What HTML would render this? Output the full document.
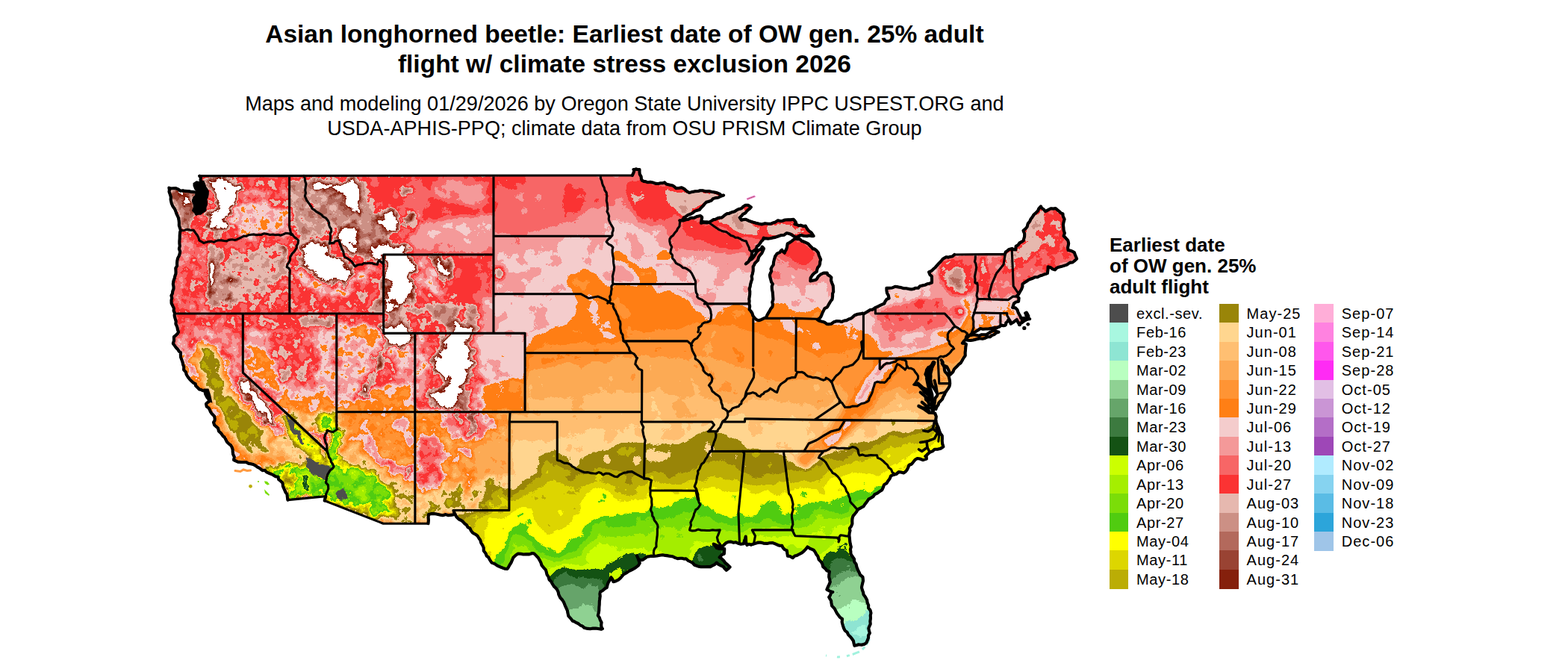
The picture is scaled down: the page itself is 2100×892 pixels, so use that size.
<!DOCTYPE html><html><head><meta charset="utf-8"><title>map</title><style>html,body{margin:0;padding:0;background:#fff;overflow:hidden}svg{display:block}text{font-family:"Liberation Sans",sans-serif;fill:#000}</style></head><body>
<svg width="2100" height="892" viewBox="0 0 2100 892">
<defs><clipPath id="us"><path d="M267.2 235.6 L848.4 235.6 L848.4 225.6 L852.6 225.9 L856.2 227.7 L857.9 236.9 L859.5 242.2 L867.7 244.0 L877.8 246.5 L884.1 244.7 L890.4 244.0 L898.0 248.2 L905.6 252.8 L913.1 251.5 L923.2 257.8 L930.8 256.6 L938.3 254.0 L945.9 256.6 L953.5 257.8 L963.6 259.8 L969.1 261.9 L958.5 265.4 L945.9 271.7 L935.8 279.3 L925.7 286.8 L915.6 292.6 L910.1 295.6 L915.6 294.9 L925.7 293.1 L937.1 289.3 L941.4 291.4 L939.6 296.9 L947.2 298.7 L953.5 296.1 L961.0 293.1 L968.6 289.8 L976.2 286.1 L983.7 282.3 L991.3 278.5 L998.9 275.7 L1005.2 276.5 L1002.6 280.5 L995.8 286.8 L991.3 291.4 L992.8 294.6 L1001.4 293.6 L1008.9 298.2 L1016.5 300.7 L1024.1 300.9 L1031.6 298.7 L1041.7 295.9 L1051.8 294.9 L1063.1 293.9 L1064.9 298.2 L1063.9 301.7 L1072.0 301.7 L1079.5 302.2 L1082.6 307.0 L1085.8 312.8 L1089.6 315.8 L1080.8 315.8 L1073.2 314.8 L1066.9 317.3 L1059.4 314.8 L1053.1 313.8 L1045.5 315.3 L1037.9 316.8 L1031.6 318.3 L1026.6 320.4 L1022.8 318.8 L1019.5 323.4 L1016.5 328.4 L1012.7 333.5 L1008.4 338.0 L1005.2 343.6 L1001.4 349.1 L998.3 353.6 L1001.4 351.6 L1006.4 346.1 L1011.5 340.5 L1016.5 334.7 L1021.0 330.9 L1022.8 333.5 L1017.8 341.0 L1014.0 347.3 L1011.0 354.9 L1008.4 363.7 L1006.4 373.8 L1004.4 383.9 L1002.9 394.0 L1003.9 402.8 L1005.2 414.2 L1007.7 423.7 L1012.7 428.8 L1019.5 428.8 L1026.1 424.7 L1030.4 417.2 L1034.2 407.1 L1036.2 397.8 L1035.2 387.7 L1032.6 377.6 L1030.9 368.8 L1032.9 359.9 L1036.2 351.1 L1039.2 344.1 L1043.7 338.5 L1047.3 334.0 L1049.8 338.5 L1052.3 333.5 L1055.6 327.2 L1059.9 322.9 L1064.4 319.8 L1068.2 320.4 L1075.8 323.9 L1084.6 328.4 L1092.1 333.5 L1095.9 339.0 L1098.2 347.3 L1097.2 356.2 L1092.9 363.2 L1087.6 368.8 L1085.3 375.8 L1091.6 374.3 L1099.7 368.3 L1106.8 365.7 L1112.8 371.3 L1115.6 382.6 L1116.6 394.0 L1113.8 401.0 L1109.8 406.1 L1107.3 411.1 L1103.5 412.1 L1102.7 419.2 L1099.7 424.7 L1094.7 428.0 L1102.2 431.3 L1109.8 434.3 L1117.4 432.3 L1130.0 429.8 L1142.6 423.7 L1155.2 419.7 L1156.4 420.6 L1165.2 415.8 L1172.4 412.9 L1181.0 406.9 L1190.5 399.0 L1190.0 395.0 L1187.3 386.8 L1198.9 384.0 L1217.8 386.6 L1230.5 386.3 L1241.0 380.5 L1247.3 379.2 L1247.3 370.0 L1244.1 364.7 L1255.7 355.5 L1266.2 345.0 L1278.2 341.0 L1346.2 340.7 L1348.3 335.7 L1355.1 333.1 L1359.9 334.4 L1361.0 330.5 L1369.4 321.2 L1372.5 316.0 L1371.5 309.4 L1376.7 304.1 L1377.8 296.2 L1394.0 276.2 L1397.8 280.4 L1401.0 283.6 L1413.6 278.8 L1424.3 286.5 L1424.5 316.0 L1431.5 325.2 L1431.9 334.4 L1438.8 338.4 L1441.6 345.7 L1436.7 351.0 L1428.3 354.2 L1417.8 358.1 L1412.5 362.1 L1403.1 358.1 L1402.0 364.7 L1396.7 367.9 L1386.2 372.1 L1377.8 374.7 L1372.5 377.9 L1369.4 384.5 L1365.2 391.1 L1361.4 396.3 L1364.7 402.9 L1358.9 406.9 L1356.8 411.4 L1363.1 414.8 L1364.7 421.4 L1367.3 425.8 L1375.7 426.4 L1378.9 422.7 L1375.7 418.5 L1373.6 418.7 L1379.3 428.0 L1371.5 430.1 L1364.1 432.4 L1362.0 428.0 L1354.6 433.2 L1350.4 428.0 L1347.3 431.9 L1346.6 436.7 L1338.6 438.0 L1327.3 439.3 L1316.8 439.8 L1306.2 443.8 L1298.9 449.0 L1294.7 453.0 L1293.2 454.3 L1304.1 456.4 L1318.9 453.0 L1337.8 444.6 L1329.4 443.2 L1321.0 447.2 L1308.3 448.5 L1298.9 450.4 L1293.2 454.3 L1289.4 460.1 L1293.6 460.9 L1292.5 472.8 L1287.3 485.9 L1279.9 493.8 L1273.6 500.9 L1270.4 493.8 L1262.0 487.2 L1261.0 482.0 L1264.1 491.2 L1270.4 504.4 L1271.5 513.6 L1267.3 525.4 L1259.9 537.3 L1252.6 547.8 L1251.5 543.9 L1255.7 528.1 L1247.3 516.2 L1246.2 500.4 L1250.4 487.2 L1243.1 491.2 L1241.0 501.7 L1243.1 514.9 L1244.1 524.1 L1232.6 517.5 L1229.4 513.6 L1238.9 524.1 L1245.2 533.4 L1238.9 532.0 L1245.2 542.6 L1241.0 545.2 L1245.2 551.8 L1237.8 546.5 L1245.2 553.6 L1251.5 553.9 L1254.2 563.7 L1256.8 572.9 L1261.4 583.9 L1262.7 597.9 L1252.6 601.9 L1243.1 608.5 L1239.9 615.0 L1228.3 613.7 L1217.8 622.9 L1210.9 634.3 L1203.1 633.5 L1192.6 637.4 L1185.2 649.3 L1181.0 655.9 L1169.4 665.1 L1157.8 674.3 L1149.4 682.2 L1143.1 691.5 L1139.9 704.6 L1136.8 717.8 L1137.8 728.3 L1141.0 741.5 L1147.3 760.0 L1155.7 777.1 L1154.7 786.3 L1161.0 807.4 L1166.2 820.6 L1165.2 839.0 L1164.1 848.2 L1159.9 860.1 L1152.6 864.0 L1144.1 864.8 L1143.1 858.8 L1131.5 844.3 L1128.4 829.8 L1119.9 821.9 L1113.6 807.4 L1110.5 799.5 L1115.7 792.9 L1108.4 790.3 L1110.5 775.8 L1110.5 765.2 L1103.1 759.2 L1095.7 745.5 L1089.4 737.6 L1082.0 733.6 L1075.7 737.6 L1062.1 746.8 L1054.7 744.7 L1053.6 737.6 L1046.3 732.3 L1034.7 726.2 L1015.7 727.6 L1009.4 728.9 L1000.0 729.7 L998.9 719.1 L995.7 727.0 L989.4 727.0 L975.7 726.5 L968.4 731.0 L965.2 731.8 L962.1 731.0 L955.7 728.3 L960.0 734.9 L969.4 734.9 L970.5 741.5 L965.2 745.5 L971.5 754.7 L976.8 758.6 L973.6 763.1 L968.4 760.0 L960.0 753.4 L954.7 758.6 L944.2 760.0 L931.5 756.0 L918.9 749.4 L910.5 748.1 L897.9 745.5 L887.3 742.3 L875.8 744.2 L864.2 748.1 L856.8 750.7 L852.6 744.2 L856.8 754.7 L845.2 763.9 L832.6 772.6 L822.1 778.9 L817.9 773.1 L812.6 786.3 L805.2 792.9 L802.1 806.1 L801.0 820.6 L805.2 833.7 L806.3 842.7 L804.8 842.5 L793.5 841.7 L780.9 839.2 L765.7 831.6 L760.7 821.5 L755.6 806.4 L746.8 793.8 L738.0 778.7 L730.4 763.6 L722.9 750.9 L715.3 742.1 L697.7 740.9 L690.1 743.4 L684.5 753.5 L678.6 763.4 L669.8 758.9 L659.7 752.5 L650.9 745.0 L647.1 733.6 L643.3 723.6 L637.0 714.7 L629.5 708.4 L621.9 702.1 L614.3 694.6 L608.0 686.2 L608.8 689.3 L573.5 689.3 L573.5 701.2 L513.3 701.2 L434.5 670.6 L436.4 664.6 L385.9 669.6 L384.1 661.8 L380.3 654.3 L376.5 646.7 L372.0 638.6 L361.4 632.8 L351.3 630.3 L345.0 625.3 L336.2 621.5 L326.1 619.0 L314.7 616.5 L312.2 608.9 L309.7 598.8 L304.6 591.2 L298.3 583.7 L292.0 573.6 L286.2 566.5 L287.0 561.5 L284.5 555.9 L280.7 548.4 L276.1 541.3 L280.2 538.3 L278.7 530.7 L274.4 523.7 L266.1 521.9 L261.8 516.9 L256.7 509.3 L250.4 501.7 L246.6 495.4 L244.1 485.3 L241.6 475.3 L237.8 467.7 L232.8 460.1 L234.0 452.6 L237.8 445.0 L233.3 419.2 L232.3 409.1 L230.3 402.8 L229.2 396.5 L231.3 386.4 L233.3 376.3 L235.3 366.2 L236.8 356.2 L238.3 346.1 L239.8 336.0 L241.1 325.9 L241.6 315.8 L241.1 308.3 L240.3 301.9 L239.6 295.6 L237.3 289.3 L234.5 283.0 L232.3 275.5 L229.8 267.9 L227.7 260.3 L225.7 254.0 L226.5 251.3 L235.3 252.8 L245.4 255.3 L254.2 257.3 L262.5 257.8 L263.0 261.6 L260.0 267.9 L261.3 274.2 L259.8 281.8 L263.0 287.1 L268.6 285.6 L274.9 280.5 L276.4 274.2 L274.9 266.6 L276.9 260.3 L275.6 252.8 L273.1 246.5 L269.3 241.4Z"/></clipPath><filter id="fe" x="190" y="200" width="1320" height="700" filterUnits="userSpaceOnUse" color-interpolation-filters="sRGB"><feGaussianBlur in="SourceGraphic" stdDeviation="3.0" result="b"/><feColorMatrix in="b" type="matrix" values="1 0 0 0 0 1 0 0 0 0 1 0 0 0 0 0 0 0 0 1" result="L"/><feColorMatrix in="b" type="matrix" values="0 1 0 0 0 0 1 0 0 0 0 1 0 0 0 0 0 0 0 1" result="A"/><feTurbulence type="fractalNoise" baseFrequency="0.06" numOctaves="4" seed="11" result="dt0"/><feColorMatrix in="dt0" type="matrix" values="1 0 0 0 0 0 1 0 0 0 0 0 1 0 0 0 0 0 0 1" result="dt"/><feComposite in="A" in2="dt" operator="arithmetic" k1="1" k2="-0.5" k3="0" k4="0.5" result="dm"/><feDisplacementMap in="L" in2="dm" scale="20" xChannelSelector="R" yChannelSelector="G" result="d"/><feTurbulence type="fractalNoise" baseFrequency="0.075" numOctaves="5" seed="7" result="t"/><feColorMatrix in="t" type="matrix" values="1 0 0 0 0 1 0 0 0 0 1 0 0 0 0 0 0 0 0 1" result="n"/><feComposite in="A" in2="n" operator="arithmetic" k1="1" k2="0" k3="0" k4="0" result="m"/><feComposite in="d" in2="m" operator="arithmetic" k1="0" k2="1" k3="0.16" k4="0" result="f1"/><feColorMatrix in="b" type="matrix" values="0 0 1 0 0 0 0 1 0 0 0 0 1 0 0 0 0 0 0 1" result="A2"/><feTurbulence type="fractalNoise" baseFrequency="0.028" numOctaves="3" seed="3" result="t2"/><feColorMatrix in="t2" type="matrix" values="1 0 0 0 0 1 0 0 0 0 1 0 0 0 0 0 0 0 0 1" result="n2"/><feComposite in="A2" in2="n2" operator="arithmetic" k1="1" k2="0" k3="0" k4="0" result="m2"/><feComposite in="f1" in2="m2" operator="arithmetic" k1="0" k2="1" k3="0.16" k4="0" result="f"/><feComponentTransfer in="f"><feFuncR type="discrete" tableValues="0.659 0.557 0.725 0.561 0.400 0.235 0.078 0.800 0.647 0.482 0.314 1.000 0.867 0.733 0.600 1.000 1.000 0.992 1.000 1.000 0.957 0.957 0.969 0.984 0.902 0.800 0.702 0.600 0.522 1.000 1.000 1.000"/><feFuncG type="discrete" tableValues="0.969 0.898 1.000 0.820 0.647 0.478 0.322 1.000 0.933 0.867 0.800 1.000 0.839 0.678 0.522 0.839 0.749 0.667 0.580 0.498 0.800 0.600 0.400 0.200 0.722 0.565 0.412 0.263 0.125 1.000 1.000 1.000"/><feFuncB type="discrete" tableValues="0.878 0.827 0.753 0.576 0.416 0.247 0.078 0.000 0.000 0.031 0.063 0.000 0.000 0.020 0.035 0.561 0.447 0.333 0.204 0.082 0.800 0.600 0.400 0.200 0.686 0.522 0.361 0.200 0.047 1.000 1.000 1.000"/></feComponentTransfer></filter><filter id="rough" x="300" y="500" width="300" height="250" filterUnits="userSpaceOnUse"><feTurbulence type="fractalNoise" baseFrequency="0.09" numOctaves="3" seed="5" result="t"/><feDisplacementMap in="SourceGraphic" in2="t" scale="12" xChannelSelector="R" yChannelSelector="G"/></filter></defs>
<rect width="2100" height="892" fill="#fff"/>
<g clip-path="url(#us)"><g filter="url(#fe)"><rect x="150" y="160" width="1400" height="780" fill="#a01f73"/><path d="M640.0 200.0 L640.0 316.0 L700.0 314.0 L745.0 302.0 L775.0 288.0 L805.0 272.0 L835.0 260.0 L850.0 268.0 L860.0 290.0 L880.0 305.0 L900.0 318.0 L915.0 335.0 L950.0 338.0 L985.0 336.0 L1005.0 340.0 L1035.0 352.0 L1060.0 362.0 L1097.0 358.0 L1130.0 355.0 L1130.0 200.0Z" fill="#a81f73"/><path d="M671.3 233.9 L706.6 233.9 L704.1 250.3 L691.5 257.8 L676.3 252.8Z" fill="#b01f73"/><path d="M840.0 244.0 L855.1 241.4 L877.8 245.2 L890.4 252.8 L903.0 270.4 L900.5 288.1 L890.4 300.7 L870.3 303.2 L855.1 295.6 L845.0 275.5 L840.0 260.3Z" fill="#b01f73"/><path d="M913.1 300.7 L928.3 295.6 L945.9 300.7 L966.1 310.8 L986.2 320.9 L1001.4 330.9 L991.3 336.0 L971.1 330.9 L950.9 325.9 L930.8 320.9 L915.6 313.3Z" fill="#b01f73"/><path d="M1041.7 323.4 L1056.8 320.9 L1074.5 325.9 L1089.6 333.5 L1092.1 346.1 L1082.1 356.2 L1066.9 351.1 L1051.8 346.1 L1041.7 336.0Z" fill="#b01f73"/><path d="M887.9 250.3 L905.6 252.8 L923.2 257.8 L940.9 255.3 L969.1 261.9 L958.5 266.6 L945.9 273.0 L935.8 280.5 L925.7 288.1 L915.6 290.6 L905.6 283.0 L895.5 270.4 L887.9 260.3Z" fill="#b81f73"/><path d="M948.4 295.6 L961.0 291.9 L976.2 286.1 L991.3 278.5 L1005.2 276.5 L996.3 288.1 L1001.4 293.6 L1016.5 300.7 L1031.6 298.7 L1051.8 294.9 L1064.4 293.9 L1079.5 302.2 L1088.4 315.8 L1066.9 317.3 L1053.1 313.8 L1031.6 318.3 L1019.5 323.4 L1014.0 319.6 L1003.9 315.8 L991.3 310.8 L976.2 304.5 L961.0 300.2Z" fill="#b81f73"/><path d="M1016.5 307.0 L1029.1 305.7 L1034.2 315.8 L1026.6 320.9 L1017.8 317.1Z" fill="#b01f73"/><path d="M640.0 346.0 L690.0 336.0 L720.0 326.0 L770.0 318.0 L800.0 306.0 L822.0 292.0 L845.0 300.0 L870.0 322.0 L895.0 338.0 L920.0 348.0 L950.0 355.0 L985.0 360.0 L1005.0 364.0 L1035.0 376.0 L1060.0 382.0 L1095.0 378.0 L1130.0 372.0 L1130.0 480.0 L640.0 480.0Z" fill="#9b1f73"/><path d="M663.0 358.2 L670.8 356.2 L675.8 365.0 L671.3 375.8 L663.7 373.8Z" fill="#c01f73"/><path d="M1175.1 414.2 L1210.4 406.6 L1260.9 396.5 L1268.4 416.7 L1265.9 439.4 L1235.6 441.9 L1185.2 441.9 L1170.1 426.8Z" fill="#a18c59"/><path d="M1173.9 394.0 L1190.3 385.2 L1210.4 383.9 L1235.6 385.2 L1245.7 381.4 L1248.3 391.5 L1235.6 401.5 L1210.4 404.1 L1185.2 411.6 L1172.6 416.7Z" fill="#918c59"/><path d="M1245.7 365.0 L1255.8 353.6 L1273.5 342.3 L1286.1 342.3 L1278.5 356.2 L1265.9 366.2 L1253.3 376.3Z" fill="#918c59"/><path d="M1260.9 351.1 L1278.5 344.8 L1301.2 346.1 L1306.2 361.2 L1305.0 381.4 L1296.2 396.5 L1278.5 396.5 L1263.4 386.4 L1257.1 368.8Z" fill="#a98c59"/><path d="M1272.2 362.5 L1283.6 357.4 L1292.4 361.2 L1293.6 376.3 L1287.3 387.7 L1276.0 386.4 L1270.9 375.1Z" fill="#bd8c59"/><path d="M1277.2 412.9 L1289.9 410.4 L1292.4 420.5 L1281.0 423.0Z" fill="#b18c59"/><path d="M1308.8 341.0 L1347.8 340.5 L1356.7 333.5 L1361.7 361.2 L1361.7 396.5 L1351.6 401.0 L1311.3 401.0Z" fill="#a18c59"/><path d="M1345.3 338.5 L1357.9 333.5 L1361.7 351.1 L1356.7 363.7 L1347.8 361.2 L1344.1 351.1Z" fill="#b58c59"/><path d="M1312.5 346.1 L1320.1 344.8 L1321.4 371.3 L1317.6 396.5 L1312.5 396.5Z" fill="#b18c59"/><path d="M1357.9 333.5 L1365.5 320.9 L1376.8 298.2 L1392.0 276.7 L1402.1 279.3 L1399.5 295.6 L1394.5 310.8 L1397.0 325.9 L1386.9 338.5 L1374.3 346.1 L1361.7 351.1Z" fill="#b48c59"/><path d="M1402.1 279.3 L1419.7 277.5 L1426.0 286.8 L1426.0 320.9 L1433.6 336.0 L1441.9 344.8 L1427.3 351.1 L1412.1 351.1 L1402.1 346.1 L1397.0 330.9 L1395.8 313.3 L1400.8 295.6Z" fill="#a98c59"/><path d="M1361.7 351.1 L1374.3 346.1 L1386.9 338.5 L1397.0 330.9 L1402.1 346.1 L1412.1 351.1 L1409.6 357.4 L1397.0 361.2 L1381.9 371.3 L1369.3 383.9 L1363.0 394.0Z" fill="#a18c59"/><path d="M1397.0 356.2 L1412.1 353.6 L1417.2 357.4 L1409.6 363.7 L1399.5 365.0Z" fill="#b18c59"/><path d="M1308.8 402.0 L1351.6 401.0 L1361.7 396.5 L1361.7 421.7 L1351.6 439.4 L1303.7 439.4 L1305.0 420.5Z" fill="#918c59"/><path d="M1291.6 396.5 L1298.2 396.5 L1301.2 421.7 L1303.7 444.9 L1291.1 444.9 L1293.6 421.7Z" fill="#898c59"/><path d="M1316.8 419.7 L1325.2 419.2 L1326.4 441.9 L1317.6 443.1Z" fill="#898c59"/><path d="M1291.5 453.0 L1302.0 447.7 L1325.2 445.1 L1339.9 442.4 L1339.9 459.6 L1291.5 459.6Z" fill="#898c59"/><path d="M1305.0 439.9 L1321.4 438.9 L1341.5 438.4 L1345.3 441.9 L1345.3 446.9 L1305.0 446.9Z" fill="#898c59"/><path d="M1144.0 428.0 L1160.0 420.0 L1175.0 425.0 L1170.0 445.0 L1150.0 450.0Z" fill="#9c1f73"/><path d="M660.0 494.0 L680.0 494.0 L692.6 490.9 L702.0 465.8 L708.2 453.2 L717.7 446.9 L730.2 443.8 L742.8 437.5 L758.5 434.4 L771.0 421.8 L774.2 403.0 L767.9 387.3 L758.5 381.0 L761.6 370.0 L774.2 365.3 L783.6 357.5 L793.0 363.8 L805.5 374.7 L821.2 379.5 L855.8 379.5 L874.6 381.0 L880.9 390.4 L899.7 388.9 L918.5 398.3 L931.1 410.8 L946.8 415.5 L953.1 412.4 L968.8 411.8 L993.9 410.8 L1006.4 415.5 L1025.3 421.8 L1034.7 407.7 L1050.4 406.1 L1066.1 415.5 L1084.9 420.3 L1094.3 410.8 L1103.7 421.8 L1119.4 431.2 L1141.4 428.1 L1150.8 437.5 L1159.3 445.4 L1173.7 448.8 L1179.1 468.6 L1189.7 475.8 L1200.4 461.4 L1214.8 446.9 L1229.3 443.5 L1243.4 450.7 L1257.8 441.6 L1275.7 443.5 L1286.7 438.1 L1295.5 429.0 L1299.9 437.5 L1305.2 453.2 L1307.7 478.3 L1308.0 478.3 L1308.0 900.0 L660.0 900.0Z" fill="#901f73"/><path d="M660.0 478.3 L702.0 478.3 L727.1 465.8 L758.5 459.5 L789.9 459.5 L821.2 456.4 L843.2 453.2 L868.3 446.9 L899.7 440.7 L924.8 437.5 L937.4 431.2 L962.5 437.5 L993.9 440.7 L1009.6 446.9 L1025.3 453.2 L1056.6 459.5 L1069.2 465.8 L1088.0 472.0 L1119.4 472.0 L1144.5 465.8 L1157.1 478.3 L1182.2 484.6 L1213.6 478.3 L1245.0 465.8 L1276.4 453.2 L1303.0 446.9 L1307.7 478.3 L1308.0 478.3 L1308.0 900.0 L660.0 900.0Z" fill="#881f73"/><path d="M660.0 497.2 L702.0 497.2 L727.1 490.9 L758.5 484.6 L789.9 483.0 L821.2 481.5 L852.6 478.3 L868.3 475.2 L899.7 478.3 L931.1 475.2 L946.8 478.3 L962.5 484.6 L993.9 490.9 L1009.6 497.2 L1025.3 506.6 L1056.6 509.7 L1088.0 509.7 L1119.4 516.0 L1135.1 528.5 L1166.5 534.8 L1197.9 522.3 L1229.3 509.7 L1260.7 490.9 L1292.1 478.3 L1320.0 465.8 L1480.0 465.8 L1480.0 900.0 L660.0 900.0Z" fill="#801f73"/><path d="M660.0 538.0 L680.0 538.0 L702.0 534.8 L742.8 531.7 L805.5 528.5 L858.9 525.4 L899.7 528.5 L931.1 531.7 L962.5 538.0 L978.2 541.1 L993.9 538.0 L1025.3 534.8 L1056.6 538.0 L1088.0 541.1 L1119.4 544.2 L1150.8 550.5 L1182.2 547.4 L1213.6 534.8 L1245.0 522.3 L1276.4 506.6 L1320.0 490.9 L1480.0 490.9 L1480.0 900.0 L660.0 900.0Z" fill="#781f73"/><path d="M660.0 592.2 L680.0 592.2 L711.4 590.6 L745.9 587.5 L774.2 578.1 L805.5 573.4 L836.9 570.2 L858.9 567.1 L884.0 567.1 L915.4 563.9 L946.8 560.8 L962.5 559.2 L981.3 557.7 L1009.6 554.5 L1025.3 557.7 L1056.6 560.8 L1088.0 562.4 L1119.4 563.9 L1150.8 562.4 L1182.2 557.7 L1213.6 551.4 L1245.0 545.1 L1263.8 538.8 L1480.0 538.8 L1480.0 900.0 L660.0 900.0Z" fill="#721f73"/><path d="M606.0 634.0 L606.0 634.0 L635.1 645.2 L662.1 665.4 L680.0 660.9 L693.5 649.7 L704.7 640.7 L722.6 634.0 L726.0 625.0 L719.2 610.5 L731.6 608.2 L745.0 604.9 L754.0 608.2 L769.7 606.0 L780.9 610.5 L796.6 604.9 L805.6 601.5 L823.5 597.0 L837.0 592.5 L850.4 593.6 L861.7 591.4 L866.1 593.6 L875.1 591.4 L890.8 593.6 L904.3 591.4 L915.5 590.3 L926.7 584.7 L937.9 579.1 L949.1 575.7 L958.1 573.5 L964.8 580.2 L971.5 582.4 L980.5 586.9 L989.5 590.3 L996.2 593.6 L1002.2 602.6 L1050.5 604.9 L1053.8 608.2 L1067.3 618.3 L1076.3 621.7 L1089.7 619.4 L1098.7 615.6 L1103.2 608.2 L1112.1 600.4 L1125.6 598.1 L1139.0 595.9 L1152.5 593.6 L1166.0 589.2 L1179.4 584.7 L1188.4 580.2 L1201.8 579.1 L1215.3 576.8 L1228.8 573.5 L1242.2 569.0 L1256.8 565.6 L1291.5 560.0 L1480.0 560.0 L1480.0 900.0 L606.0 900.0Z" fill="#681f73"/><path d="M606.0 717.0 L606.0 717.0 L623.9 694.6 L646.4 676.6 L662.1 669.9 L680.0 665.4 L693.5 656.4 L709.2 645.2 L724.9 638.5 L728.2 627.3 L738.3 622.8 L754.0 625.0 L765.2 629.5 L780.9 634.0 L796.6 636.3 L805.6 629.5 L819.0 627.3 L837.0 631.8 L850.4 634.0 L861.7 636.3 L872.9 634.0 L881.8 634.0 L895.3 636.3 L908.8 634.0 L922.2 629.5 L933.4 623.9 L942.4 618.3 L953.6 617.2 L971.5 620.6 L985.0 625.0 L996.2 629.5 L1002.2 634.0 L1013.5 636.3 L1026.9 634.0 L1040.4 637.4 L1051.6 634.0 L1067.3 627.3 L1080.7 628.4 L1094.2 626.2 L1103.2 620.6 L1112.1 613.8 L1125.6 611.6 L1139.0 608.2 L1152.5 604.9 L1166.0 599.2 L1179.4 593.6 L1192.9 589.2 L1206.3 586.9 L1219.8 583.5 L1233.2 579.1 L1246.7 574.6 L1257.9 571.2 L1291.5 564.5 L1480.0 564.5 L1480.0 900.0 L606.0 900.0Z" fill="#601f73"/><path d="M612.7 739.4 L612.7 739.4 L630.7 717.0 L646.4 694.6 L662.1 681.1 L680.0 676.6 L693.5 667.6 L706.9 658.7 L724.9 649.7 L738.3 645.2 L754.0 647.5 L769.7 649.7 L785.4 651.9 L801.1 649.7 L814.6 647.5 L832.5 649.7 L850.4 651.9 L866.1 649.7 L872.9 647.5 L886.3 648.6 L904.3 649.7 L917.7 647.5 L928.9 644.1 L937.9 640.7 L949.1 638.5 L962.6 639.6 L978.3 644.1 L996.2 648.6 L1002.2 649.7 L1026.9 649.3 L1053.8 649.7 L1067.3 646.3 L1080.7 643.4 L1094.2 638.9 L1105.4 634.0 L1116.6 627.3 L1130.1 622.8 L1143.5 618.3 L1157.0 616.1 L1170.4 613.8 L1183.9 608.2 L1197.4 602.6 L1210.8 598.1 L1224.3 593.6 L1237.7 588.0 L1251.2 582.4 L1260.1 577.9 L1291.5 569.0 L1480.0 569.0 L1480.0 900.0 L612.7 900.0Z" fill="#581f73"/><path d="M623.9 750.6 L623.9 750.6 L639.6 728.2 L653.1 708.0 L662.1 699.0 L680.0 694.6 L689.0 687.8 L700.2 681.1 L709.2 681.1 L713.6 694.6 L722.6 705.8 L736.1 710.3 L751.8 708.0 L765.2 699.0 L774.2 685.6 L778.7 672.1 L785.4 663.2 L796.6 658.7 L805.6 654.2 L814.6 658.7 L825.8 665.4 L837.0 667.6 L850.4 665.4 L866.1 663.2 L872.9 658.7 L881.8 659.8 L899.8 660.9 L913.2 659.8 L926.7 658.7 L933.4 655.3 L940.1 651.9 L949.1 650.8 L962.6 654.2 L978.3 659.8 L996.2 664.3 L1002.2 665.4 L1013.5 662.0 L1026.9 658.7 L1040.4 665.4 L1053.8 660.9 L1067.3 658.7 L1080.7 654.2 L1094.2 649.7 L1107.6 645.2 L1121.1 640.7 L1134.6 636.3 L1145.8 631.8 L1157.0 636.3 L1170.4 638.5 L1179.4 636.3 L1190.6 627.3 L1201.8 618.3 L1213.1 613.8 L1224.3 608.2 L1235.5 602.6 L1246.7 595.9 L1257.9 589.2 L1263.5 584.7 L1291.5 575.7 L1480.0 575.7 L1480.0 900.0 L623.9 900.0Z" fill="#501f73"/><path d="M654.2 750.6 L654.2 750.6 L662.1 742.1 L673.0 737.4 L682.5 728.0 L680.9 709.1 L690.3 702.9 L698.2 699.7 L706.0 706.0 L710.7 718.6 L723.3 724.8 L735.8 731.1 L748.4 737.2 L756.3 730.4 L765.2 721.5 L776.4 714.7 L785.4 703.5 L796.6 696.8 L810.1 692.3 L823.5 694.6 L837.0 692.3 L846.0 685.6 L859.4 690.1 L872.9 685.6 L877.4 681.1 L890.8 678.9 L904.3 672.1 L913.2 667.6 L924.4 669.9 L933.4 665.4 L940.1 667.6 L949.1 676.6 L960.3 687.8 L971.5 692.3 L985.0 690.1 L996.2 686.7 L1002.2 685.6 L1009.0 687.8 L1017.9 681.1 L1029.2 672.1 L1038.1 669.9 L1044.9 678.9 L1053.8 682.2 L1065.0 676.6 L1076.3 677.7 L1089.7 674.4 L1103.2 672.1 L1116.6 667.6 L1130.1 663.2 L1139.0 658.7 L1148.0 656.4 L1157.0 658.7 L1168.2 656.4 L1177.2 651.9 L1183.9 647.5 L1201.8 634.0 L1480.0 634.0 L1480.0 900.0 L654.2 900.0Z" fill="#481f73"/><path d="M666.5 761.8 L666.5 761.8 L680.0 739.4 L684.5 721.5 L693.5 714.7 L704.7 721.5 L715.9 732.7 L731.6 739.4 L747.3 746.1 L760.7 739.4 L774.2 728.2 L787.6 717.0 L801.1 710.3 L814.6 705.8 L832.5 705.8 L850.4 703.5 L866.1 701.3 L877.4 699.0 L890.8 694.6 L904.3 690.1 L917.7 687.8 L926.7 687.8 L949.1 692.3 L971.5 703.5 L996.2 701.3 L1002.2 694.6 L1013.5 696.8 L1026.9 692.3 L1044.9 694.6 L1060.6 692.3 L1076.3 690.1 L1094.2 687.8 L1112.1 685.6 L1125.6 681.1 L1139.0 676.6 L1148.0 672.1 L1157.0 667.6 L1179.4 654.2 L1480.0 654.2 L1480.0 900.0 L666.5 900.0Z" fill="#401f73"/><path d="M684.5 761.8 L684.5 761.8 L689.0 739.4 L697.9 732.7 L713.6 741.7 L733.8 750.6 L751.8 755.1 L769.7 741.7 L787.6 730.4 L805.6 721.5 L823.5 719.2 L841.5 717.0 L859.4 714.7 L877.4 712.5 L895.3 708.0 L913.2 705.8 L926.7 705.8 L960.3 712.5 L996.2 712.5 L1002.2 703.5 L1017.9 705.8 L1035.9 703.5 L1060.6 705.8 L1076.3 703.5 L1094.2 701.3 L1112.1 699.0 L1125.6 694.6 L1139.0 690.1 L1145.8 685.6 L1168.2 672.1 L1480.0 672.1 L1480.0 900.0 L684.5 900.0Z" fill="#381f73"/><path d="M693.5 761.8 L693.5 761.8 L697.9 746.1 L715.9 750.6 L738.3 760.0 L774.2 750.6 L792.1 739.4 L810.1 732.7 L828.0 730.4 L846.0 728.2 L863.9 726.0 L877.4 726.0 L895.3 721.5 L913.2 721.5 L926.7 721.5 L960.3 726.0 L996.2 723.7 L1002.2 714.7 L1022.4 717.0 L1044.9 719.2 L1062.8 717.0 L1080.7 714.7 L1098.7 712.5 L1116.6 710.3 L1130.1 705.8 L1139.0 699.0 L1157.0 685.6 L1480.0 685.6 L1480.0 900.0 L693.5 900.0Z" fill="#331f73"/><path d="M866.1 603.7 L899.8 608.2 L895.3 616.1 L881.8 627.3 L875.1 623.9 L866.1 618.3Z" fill="#701f73"/><path d="M846.0 610.5 L857.2 609.3 L859.4 620.6 L848.2 622.8Z" fill="#701f73"/><path d="M807.8 612.7 L819.0 614.9 L816.8 620.6 L809.0 619.4Z" fill="#701f73"/><path d="M733.4 771.1 L736.5 768.0 L758.5 761.7 L783.6 758.5 L805.5 761.7 L821.2 752.3 L833.8 739.7 L849.5 736.6 L868.3 739.7 L868.3 896.6 L733.4 896.6Z" fill="#281f73"/><path d="M738.1 775.8 L739.6 774.2 L767.9 771.1 L789.9 774.2 L805.5 780.5 L815.0 896.6 L738.1 896.6Z" fill="#201f73"/><path d="M745.9 789.9 L749.1 786.8 L774.2 780.5 L796.1 789.9 L805.5 896.6 L745.9 896.6Z" fill="#181f73"/><path d="M924.0 775.0 L926.0 748.0 L934.0 738.0 L943.0 731.0 L955.0 725.0 L965.0 727.0 L975.0 737.0 L983.0 760.0 L983.0 775.0Z" fill="#261f73"/><path d="M1094.3 758.5 L1097.5 746.0 L1110.0 736.6 L1122.6 727.2 L1132.0 720.9 L1141.4 720.9 L1182.2 802.5 L1094.3 802.5Z" fill="#281f73"/><path d="M1110.0 758.5 L1113.1 752.3 L1125.7 746.0 L1141.4 752.3 L1147.7 764.8 L1182.2 802.5 L1110.0 802.5Z" fill="#201f73"/><path d="M1110.0 777.4 L1113.1 771.1 L1128.8 768.0 L1150.8 771.1 L1182.2 802.5 L1110.0 802.5Z" fill="#181f73"/><path d="M1106.9 786.9 L1118.2 781.2 L1132.3 775.6 L1146.4 769.9 L1157.7 772.8 L1174.7 809.5 L1174.7 894.2 L1106.9 894.2Z" fill="#101f73"/><path d="M1118.2 815.1 L1129.5 806.7 L1140.8 801.0 L1154.9 803.8 L1163.4 809.5 L1174.7 837.7 L1174.7 894.2 L1118.2 894.2Z" fill="#081f73"/><path d="M1126.7 834.9 L1135.1 837.7 L1146.4 832.1 L1157.7 820.8 L1166.2 815.1 L1177.5 837.7 L1177.5 894.2 L1126.7 894.2Z" fill="#001f73"/><path d="M755.6 816.5 L765.7 817.8 L780.9 814.0 L793.5 816.5 L811.1 821.5 L811.1 866.9 L755.6 866.9Z" fill="#101f73"/><path d="M823.7 335.7 L833.8 335.7 L843.2 345.7 L855.3 353.8 L855.3 359.2 L860.7 361.2 L876.9 360.5 L879.6 370.0 L879.6 381.0 L855.3 381.0 L855.3 370.0 L851.3 363.2 L840.5 357.8 L831.1 352.5 L823.7 347.1Z" fill="#8e1f73"/><path d="M877.0 350.0 L881.0 337.0 L890.0 332.0 L899.0 338.0 L899.0 350.0 L888.0 350.0Z" fill="#8c1f73"/><path d="M1120.0 560.0 L1150.0 515.0 L1185.0 470.0 L1215.0 455.0 L1235.0 470.0 L1200.0 500.0 L1170.0 540.0 L1140.0 580.0 L1110.0 600.0 L1095.0 595.0Z" fill="#901f73"/><path d="M1146.0 532.0 L1162.0 506.0 L1180.0 484.0 L1194.0 474.0 L1199.0 480.0 L1184.0 499.0 L1168.0 520.0 L1151.0 541.0Z" fill="#9d1f73"/><path d="M1190.0 462.0 L1230.0 448.0 L1270.0 450.0 L1272.0 462.0 L1235.0 470.0 L1200.0 478.0Z" fill="#9c1f73"/><path d="M1066.0 616.0 L1083.0 596.0 L1105.0 580.0 L1125.0 566.0 L1147.0 552.0 L1156.0 564.0 L1134.0 582.0 L1114.0 598.0 L1096.0 612.0 L1078.0 628.0Z" fill="#881f73"/><path d="M1102.0 590.0 L1120.0 578.0 L1135.0 560.0 L1142.0 565.0 L1128.0 590.0 L1108.0 602.0Z" fill="#981f73"/><path d="M661.0 227.7 L661.0 446.4 L703.1 446.4 L703.1 551.8 L683.2 551.8 L682.1 683.5 L606.9 683.5 L608.0 900.0 L190.0 900.0 L190.0 200.0Z" fill="#a1ff26"/><path d="M486.3 237.3 L660.4 237.3 L660.4 286.7 L584.9 295.9 L554.1 280.5 L510.9 274.3 L492.4 262.0Z" fill="#a94c73"/><path d="M569.5 297.4 L615.7 291.3 L660.4 289.7 L660.4 340.6 L554.1 339.7 L547.9 317.5Z" fill="#9c4c73"/><path d="M578.7 243.5 L603.4 240.4 L625.0 249.7 L646.6 246.6 L652.7 265.1 L634.2 277.4 L609.6 271.2 L584.9 265.1Z" fill="#9c4c73"/><path d="M603.4 345.2 L660.4 343.7 L660.4 397.6 L640.4 410.0 L615.7 400.7 L603.4 385.3Z" fill="#a94c73"/><path d="M555.6 348.3 L581.8 346.8 L594.2 363.7 L597.2 385.3 L581.8 397.6 L563.3 391.5 L554.1 373.0Z" fill="#94ff26"/><path d="M518.6 422.3 L554.1 410.0 L584.9 406.9 L603.4 400.7 L625.0 406.9 L643.5 422.3 L641.9 440.8 L518.6 442.3Z" fill="#b4ff26"/><path d="M535.6 422.3 L560.3 419.2 L584.9 428.5 L581.8 440.8 L541.8 440.8Z" fill="#a4ff26"/><path d="M609.6 416.1 L625.0 414.6 L631.2 428.5 L615.7 434.6Z" fill="#a4ff26"/><path d="M646.6 397.6 L660.4 397.6 L660.4 446.9 L646.6 446.9Z" fill="#9c4c73"/><path d="M227.3 252.7 L258.2 255.8 L261.2 286.7 L255.1 311.3 L241.2 312.9 L235.0 286.7Z" fill="#bcff26"/><path d="M307.5 343.7 L344.5 332.9 L381.5 326.7 L388.2 354.5 L381.5 379.1 L338.3 397.6 L307.5 410.0 L292.1 397.6 L295.1 369.9Z" fill="#aeff26"/><path d="M273.6 326.7 L295.8 329.8 L295.8 413.0 L273.6 413.0Z" fill="#b4ff26"/><path d="M390.7 242.0 L412.3 242.0 L430.8 271.2 L444.7 299.0 L430.8 317.5 L400.0 319.0 L390.7 286.7Z" fill="#b4ff26"/><path d="M486.3 369.9 L514.6 369.9 L514.6 422.3 L492.4 410.0Z" fill="#b4ff26"/><path d="M406.1 423.8 L430.8 422.3 L449.3 425.4 L449.3 442.3 L406.1 440.8Z" fill="#b4ff26"/><path d="M412.3 238.9 L492.4 238.9 L494.0 265.1 L501.7 286.7 L523.3 317.5 L517.1 342.1 L492.4 348.3 L461.6 326.7 L444.7 299.0 L430.8 271.2Z" fill="#b4ff26"/><path d="M238.1 317.5 L267.4 326.7 L273.6 348.3 L268.9 379.1 L258.2 410.0 L235.0 413.0 L233.5 391.5 L239.7 363.7Z" fill="#98ff26"/><path d="M245.8 354.5 L264.3 348.3 L270.5 369.9 L261.2 397.6 L248.9 400.7Z" fill="#a4ff26"/><path d="M313.6 410.0 L344.5 397.6 L387.6 385.3 L387.6 416.1 L316.7 417.7Z" fill="#a4ff26"/><path d="M307.5 277.4 L326.0 271.2 L350.6 271.2 L385.2 277.4 L386.1 312.2 L350.6 313.8 L326.0 312.9 L310.6 299.0Z" fill="#8cff26"/><path d="M322.9 291.3 L335.2 294.4 L347.6 305.8 L352.2 312.2 L338.3 310.7 L327.5 301.4Z" fill="#84ff26"/><path d="M324.4 314.4 L339.8 315.9 L336.8 321.2 L323.5 319.6Z" fill="#84ff26"/><path d="M392.3 357.6 L409.2 366.8 L427.7 379.1 L449.3 382.8 L473.9 373.6 L492.4 358.2 L503.2 361.3 L492.4 371.4 L473.9 386.8 L449.3 395.2 L424.6 392.1 L406.1 379.7 L390.7 370.5Z" fill="#8cff26"/><path d="M461.6 391.5 L492.4 373.0 L510.9 369.9 L512.5 397.6 L492.4 416.1 L461.6 416.1 L443.1 400.7Z" fill="#a4ff26"/><path d="M390.7 397.6 L430.8 400.7 L449.3 410.0 L449.3 422.3 L390.7 422.3Z" fill="#a4ff26"/><path d="M329.1 422.3 L406.1 422.3 L406.1 500.0 L375.3 500.0 L363.0 471.6 L329.1 459.3Z" fill="#a4ff26"/><path d="M279.7 240.4 L304.4 238.9 L316.7 243.5 L321.4 255.8 L316.7 268.2 L307.5 277.4 L310.6 292.8 L304.4 308.2 L289.0 311.3 L276.7 305.1 L281.3 289.7 L290.5 277.4 L285.9 262.0 L281.3 249.7Z" fill="#dcff26"/><path d="M241.2 260.5 L256.6 262.0 L258.2 271.2 L248.9 275.9 L241.2 269.7Z" fill="#dcff26"/><path d="M412.3 239.8 L430.8 239.8 L436.9 249.7 L449.3 246.6 L470.9 241.0 L483.2 255.8 L480.1 271.2 L486.3 283.6 L477.0 289.7 L464.7 277.4 L458.5 265.1 L446.2 258.9 L430.8 255.8 L418.5 249.7Z" fill="#dcff26"/><path d="M452.4 302.1 L470.9 300.5 L480.1 311.3 L477.0 326.7 L483.2 336.0 L473.9 342.1 L461.6 332.9 L452.4 320.6Z" fill="#dcff26"/><path d="M400.0 334.4 L418.5 324.3 L438.5 327.3 L452.4 343.7 L465.3 353.9 L471.5 368.3 L460.1 382.8 L443.1 376.7 L430.8 379.7 L416.0 363.7 L403.7 352.9Z" fill="#dcff26"/><path d="M507.8 286.7 L526.3 283.6 L535.6 295.9 L529.4 308.2 L520.2 314.4 L510.9 305.1 L504.8 295.9Z" fill="#dcff26"/><path d="M541.8 291.3 L554.1 289.7 L555.6 295.9 L544.8 297.7Z" fill="#dcff26"/><path d="M535.6 253.4 L551.0 253.4 L552.5 258.9 L537.1 259.5Z" fill="#dcff26"/><path d="M492.4 328.3 L510.9 324.3 L526.3 329.8 L541.8 326.7 L551.0 332.9 L541.8 342.8 L515.6 343.7 L498.6 342.8 L489.4 336.6Z" fill="#dcff26"/><path d="M516.5 342.8 L549.5 342.8 L554.1 357.6 L549.5 369.9 L557.2 379.1 L555.6 391.5 L546.4 403.8 L535.6 413.0 L523.3 422.3 L516.5 422.3Z" fill="#dcff26"/><path d="M578.0 341.0 L595.0 343.0 L605.0 358.0 L603.0 374.0 L591.0 372.0 L588.0 358.0 L580.0 350.0Z" fill="#dcff26"/><path d="M604.0 432.2 L615.7 431.5 L618.8 443.9 L606.5 442.6Z" fill="#dcff26"/><path d="M278.8 360.6 L287.4 343.7 L290.5 354.5 L285.3 379.1 L281.6 397.6 L277.3 397.6Z" fill="#dcff26"/><path d="M302.9 373.0 L310.6 371.7 L313.6 379.1 L304.4 380.7Z" fill="#dcff26"/><path d="M304.4 397.6 L310.6 396.4 L312.1 406.9 L305.9 408.4Z" fill="#dcff26"/><path d="M372.8 328.9 L383.0 331.4 L385.5 338.4 L376.8 337.5Z" fill="#dcff26"/><path d="M583.4 451.6 L628.1 449.4 L631.2 502.4 L584.9 502.4Z" fill="#dcff26"/><path d="M512.5 450.0 L554.1 448.5 L554.1 459.3 L535.6 465.4 L517.1 471.6 L510.9 462.4Z" fill="#dcff26"/><path d="M453.9 437.7 L486.3 434.6 L501.7 446.9 L504.8 468.5 L492.4 502.4 L453.9 502.4Z" fill="#84ff26"/><path d="M486.3 440.8 L510.9 437.7 L512.5 450.0 L510.9 471.6 L504.8 502.4 L492.4 502.4 L504.8 468.5 L501.7 446.9Z" fill="#8cff26"/><path d="M232.0 440.0 L324.4 440.0 L324.4 495.5 L307.5 477.0 L285.9 458.5 L261.2 452.3 L239.7 458.5Z" fill="#98ff26"/><path d="M236.6 452.3 L248.9 486.2 L270.5 517.1 L285.9 544.8 L307.5 578.7 L316.7 612.6 L344.5 621.9 L387.6 668.1 L347.6 637.3 L307.5 625.0 L292.1 588.0 L270.5 551.0 L252.0 517.1 L236.6 477.0Z" fill="#84ff26"/><path d="M248.9 470.8 L270.5 458.5 L295.1 477.0 L307.5 510.9 L326.0 541.7 L350.6 569.5 L375.3 588.0 L406.1 584.9 L430.8 600.3 L436.9 625.0 L387.6 625.0 L350.6 625.0 L316.7 612.6 L307.5 578.7 L285.9 544.8 L270.5 517.1Z" fill="#7cff26"/><path d="M264.3 461.6 L289.0 463.1 L301.3 489.3 L298.2 504.7 L305.9 523.2 L322.9 538.6 L344.5 560.2 L358.3 578.7 L353.7 606.5 L332.1 609.5 L313.6 588.0 L298.2 563.3 L285.9 541.7 L275.1 517.1 L268.9 492.4Z" fill="#64ff26"/><path d="M268.9 463.1 L287.4 466.2 L297.6 489.3 L294.5 504.7 L300.7 524.8 L319.2 540.2 L340.8 561.8 L353.7 578.7 L350.6 601.8 L333.7 604.9 L318.3 586.4 L302.9 564.8 L290.5 543.3 L279.7 518.6 L273.6 492.4Z" fill="#618c33"/><path d="M307.5 477.0 L324.4 495.5 L344.5 523.2 L363.0 544.8 L375.3 569.5 L366.0 581.8 L350.6 569.5 L338.3 547.9 L322.9 526.3 L310.6 501.7Z" fill="#9cff26"/><path d="M319.2 504.1 L332.1 507.2 L345.7 528.8 L358.0 544.2 L367.3 563.3 L364.2 574.4 L354.3 568.2 L343.2 551.6 L330.9 533.1 L321.7 517.1Z" fill="#dcff26"/><path d="M329.1 440.0 L449.3 440.0 L449.3 529.4 L415.4 532.5 L387.6 532.5 L363.0 510.9 L329.1 498.6Z" fill="#94ff26"/><path d="M363.0 446.2 L406.1 443.1 L424.6 464.7 L430.8 489.3 L412.3 510.9 L387.6 517.1 L369.1 495.5 L359.9 470.8Z" fill="#a4ff26"/><path d="M329.1 458.5 L347.6 461.6 L369.1 480.1 L363.0 510.9 L344.5 507.8 L329.1 498.6Z" fill="#84ff26"/><path d="M344.5 483.2 L359.9 486.2 L375.3 510.9 L387.6 532.5 L369.1 529.4 L353.7 510.9Z" fill="#84ff26"/><path d="M375.3 492.4 L387.6 489.3 L390.7 507.8 L378.4 511.5Z" fill="#b4ff26"/><path d="M396.9 498.6 L403.7 495.5 L406.7 510.9 L398.7 514.0Z" fill="#b4ff26"/><path d="M418.5 483.2 L430.8 480.1 L434.5 498.6 L422.2 501.7Z" fill="#b4ff26"/><path d="M412.3 452.3 L449.3 449.2 L449.3 514.0 L430.8 520.1 L418.5 501.7 L430.8 477.0Z" fill="#8cff26"/><path d="M369.1 529.4 L449.3 527.9 L449.3 547.9 L406.1 558.7 L381.5 546.4Z" fill="#84ff26"/><path d="M387.6 546.4 L412.3 558.7 L449.3 547.9 L449.3 563.3 L430.8 575.6 L412.3 572.6 L396.9 560.2Z" fill="#64ff26"/><path d="M424.6 552.5 L449.3 547.9 L449.9 575.6 L437.6 577.2 L426.2 564.8Z" fill="#44ff26"/><path d="M436.9 561.8 L449.9 558.7 L449.9 575.6 L440.0 575.6Z" fill="#34ff26"/><path d="M359.9 584.9 L406.1 583.3 L430.8 600.3 L443.1 625.0 L412.3 625.0 L381.5 612.6 L363.0 600.3Z" fill="#64ff26"/><path d="M369.1 557.1 L387.6 551.0 L412.3 575.6 L430.8 600.3 L412.3 606.5 L387.6 584.9Z" fill="#54ff26"/><path d="M387.6 572.6 L400.0 569.5 L424.6 600.3 L436.9 621.9 L427.7 625.0 L406.1 600.3Z" fill="#44ff26"/><path d="M350.6 623.4 L387.6 621.9 L412.3 625.0 L437.6 637.3 L441.6 662.6 L387.6 668.7 L375.3 649.6Z" fill="#34ff26"/><path d="M350.6 621.9 L381.5 628.0 L387.6 649.6 L381.5 655.8 L363.0 640.4Z" fill="#3cff26"/><path d="M375.3 631.1 L387.6 628.0 L396.9 649.6 L387.6 655.8 L379.9 643.5Z" fill="#5cff26"/><path d="M396.9 634.2 L412.3 643.5 L415.4 661.9 L403.0 655.8Z" fill="#18ff26"/><path d="M453.9 446.2 L486.3 440.0 L492.4 458.5 L483.2 480.1 L470.9 501.7 L458.5 520.1 L453.9 532.5Z" fill="#84ff26"/><path d="M470.9 480.1 L492.4 470.8 L510.9 477.0 L504.8 501.7 L486.3 520.1 L470.9 541.7 L453.9 546.4 L453.9 532.5 L461.6 517.1Z" fill="#8cff26"/><path d="M458.4 463.2 L469.0 452.6 L481.8 450.5 L496.7 459.0 L503.1 473.9 L501.0 495.2 L490.4 512.2 L477.6 529.2 L464.8 537.8 L456.3 533.5 L456.3 499.4 L464.8 480.3Z" fill="#90ff26"/><path d="M510.9 452.3 L523.3 452.3 L518.6 477.0 L511.5 495.5 L502.3 510.9 L493.1 526.3 L480.7 536.2 L471.5 541.7 L477.0 529.4 L489.4 514.0 L501.7 492.4 L507.8 470.8Z" fill="#b4ff26"/><path d="M503.8 476.4 L510.9 473.9 L509.7 489.3 L502.3 494.3Z" fill="#dcff26"/><path d="M486.9 517.1 L495.5 514.0 L493.1 525.1 L483.8 528.2Z" fill="#dcff26"/><path d="M512.5 433.8 L550.4 433.8 L551.0 454.8 L523.3 458.5 L512.5 455.4Z" fill="#dcff26"/><path d="M523.3 464.7 L552.5 464.7 L552.5 481.6 L523.3 480.1Z" fill="#84ff26"/><path d="M526.3 483.2 L554.1 481.6 L554.1 506.3 L529.4 506.3Z" fill="#94ff26"/><path d="M492.4 527.9 L523.3 514.0 L554.1 507.8 L554.1 551.6 L455.4 551.6 L470.9 541.7Z" fill="#84ff26"/><path d="M453.9 544.8 L470.9 544.2 L461.6 551.6 L453.9 551.6Z" fill="#64ff26"/><path d="M555.6 446.2 L581.8 446.2 L581.8 486.2 L569.5 501.7 L555.6 504.7Z" fill="#94ff26"/><path d="M569.5 447.7 L600.3 447.7 L594.8 470.8 L573.2 480.7Z" fill="#a4ff26"/><path d="M556.6 480.1 L569.5 477.0 L572.6 489.3 L556.6 496.1Z" fill="#84ff26"/><path d="M555.6 504.7 L615.7 514.0 L646.6 514.0 L646.6 551.0 L555.6 551.0Z" fill="#9cff26"/><path d="M578.7 483.2 L594.2 470.8 L606.5 458.5 L600.3 433.8 L628.1 433.8 L631.2 464.7 L628.1 483.2 L634.2 495.5 L625.0 510.9 L615.7 520.1 L612.7 532.5 L615.7 548.5 L600.3 548.5 L584.9 541.7 L572.6 535.6 L569.5 529.4 L584.9 526.3 L597.2 517.1 L591.1 501.7 L581.8 495.5Z" fill="#dcff26"/><path d="M613.3 520.8 L628.1 517.1 L629.9 548.5 L614.5 548.5Z" fill="#b8ff26"/><path d="M637.3 447.7 L702.1 447.7 L702.1 503.2 L671.2 503.2 L652.7 511.5 L640.4 501.7Z" fill="#944c73"/><path d="M646.6 515.5 L671.2 506.3 L702.1 504.7 L702.1 551.0 L646.6 551.0 L641.9 532.5Z" fill="#8c4c73"/><path d="M658.9 486.2 L671.2 483.2 L677.4 498.6 L665.1 503.2Z" fill="#94ff26"/><path d="M631.2 554.7 L637.3 557.1 L638.9 569.5 L628.1 584.9 L623.4 581.8 L631.2 569.5Z" fill="#dcff26"/><path d="M449.5 550.5 L556.8 550.5 L556.8 704.6 L513.3 704.6 L432.7 673.0 L439.0 604.5Z" fill="#7cff26"/><path d="M450.2 606.6 L480.5 600.6 L496.6 616.7 L514.8 630.8 L543.0 645.0 L554.1 649.0 L554.1 701.5 L450.2 701.5Z" fill="#6cff26"/><path d="M450.2 620.7 L480.5 620.7 L496.6 634.9 L514.8 649.0 L543.0 661.1 L554.1 665.2 L554.1 701.5 L450.2 701.5Z" fill="#64ff26"/><path d="M524.9 558.2 L539.0 556.1 L551.1 562.2 L553.5 606.6 L545.1 602.6 L539.0 590.5 L530.9 580.4 L524.9 570.3Z" fill="#8fff26"/><path d="M468.4 578.4 L482.5 580.4 L484.5 592.5 L472.4 594.5Z" fill="#8fff26"/><path d="M484.5 558.2 L492.6 560.2 L498.6 580.4 L502.7 598.5 L514.8 614.7 L530.9 620.7 L543.0 626.8 L553.5 634.9 L553.5 647.0 L543.0 645.0 L526.9 630.8 L510.7 624.8 L496.6 608.6 L488.5 590.5 L484.5 572.3Z" fill="#94ff26"/><path d="M494.6 590.5 L500.6 600.6 L514.8 617.7 L530.9 623.8 L541.0 628.8 L540.0 634.9 L526.9 627.8 L510.7 620.7 L498.6 604.6Z" fill="#a0ff26"/><path d="M541.8 629.9 L547.9 628.0 L549.8 634.2 L543.6 636.1Z" fill="#dcff26"/><path d="M516.8 645.0 L543.0 653.0 L553.5 661.1 L553.5 697.4 L518.8 697.4 L524.9 681.3 L526.9 665.2Z" fill="#5cff26"/><path d="M530.9 661.1 L543.0 665.2 L547.1 693.4 L535.0 693.4Z" fill="#64ff26"/><path d="M434.0 616.7 L454.2 618.7 L472.4 622.8 L484.5 620.7 L500.6 632.9 L516.8 647.0 L524.9 665.2 L526.9 685.3 L514.8 693.4 L498.6 691.4 L470.4 677.3 L450.2 675.2 L430.0 669.2Z" fill="#4cff26"/><path d="M440.1 622.8 L454.2 625.8 L470.4 629.2 L480.5 627.2 L496.6 637.3 L510.7 649.4 L518.8 665.2 L520.8 681.3 L510.7 687.4 L498.6 685.3 L490.6 679.3 L470.4 671.2 L450.2 669.2 L434.0 661.1 L436.1 636.9Z" fill="#34ff26"/><path d="M441.6 561.8 L453.0 564.8 L460.1 588.0 L451.7 623.4 L440.0 623.4Z" fill="#44ff26"/><path d="M443.7 569.5 L450.8 571.0 L454.8 588.0 L448.7 618.8 L443.1 618.8Z" fill="#34ff26"/><path d="M554.7 550.5 L684.2 550.5 L683.2 686.2 L607.4 686.2 L607.4 691.5 L573.7 691.5 L573.7 703.3 L554.7 703.3Z" fill="#78ff26"/><path d="M559.2 554.1 L591.5 554.1 L591.5 580.4 L571.3 584.4 L559.2 580.4Z" fill="#80ff26"/><path d="M557.2 661.1 L591.5 653.0 L631.9 645.0 L652.0 636.9 L684.3 634.9 L684.3 685.3 L607.6 685.3 L607.6 691.4 L575.3 691.4 L575.3 701.5 L557.2 701.5Z" fill="#66ff26"/><path d="M558.2 576.3 L575.3 578.4 L593.5 588.4 L597.5 606.6 L595.5 628.8 L597.5 640.9 L587.4 655.1 L571.3 659.1 L558.2 653.0Z" fill="#94ff26"/><path d="M559.2 588.4 L571.3 586.4 L587.4 592.5 L591.5 606.6 L589.5 624.8 L591.5 636.9 L583.4 649.0 L571.3 653.0 L561.2 645.0 L559.2 620.7Z" fill="#9fff26"/><path d="M591.5 554.1 L631.9 554.1 L652.0 558.2 L662.1 568.3 L652.0 580.4 L631.9 590.5 L611.7 586.4 L599.6 576.3 L591.5 564.2Z" fill="#98ff26"/><path d="M607.6 556.1 L615.7 555.1 L617.7 562.2 L609.7 563.2Z" fill="#dcff26"/><path d="M627.8 555.7 L637.9 555.1 L636.3 570.3 L630.2 584.4 L625.8 582.4 L631.0 568.3Z" fill="#dcff26"/><path d="M609.7 598.5 L629.8 596.5 L631.9 614.7 L611.7 616.7Z" fill="#8fff26"/><path d="M622.8 642.9 L629.8 641.9 L631.9 665.2 L624.8 666.2Z" fill="#94ff26"/><path d="M591.5 645.0 L597.5 647.0 L599.6 665.2 L591.5 671.2 L589.5 657.1Z" fill="#5cff26"/><path d="M607.6 649.0 L617.7 645.0 L621.8 669.2 L611.7 679.3 L607.6 665.2Z" fill="#5cff26"/><path d="M577.4 679.3 L607.6 669.2 L611.7 681.3 L579.4 687.4Z" fill="#5cff26"/><path d="M644.0 640.9 L656.1 634.9 L668.2 653.0 L684.3 657.1 L684.3 685.3 L644.0 685.3Z" fill="#5fb24c"/><path d="M658.1 661.1 L672.2 665.2 L684.3 669.2 L684.3 685.3 L656.1 685.3Z" fill="#53b24c"/><path d="M631.9 592.5 L684.3 592.5 L684.3 634.9 L652.0 636.9 L631.9 624.8Z" fill="#7c4c73"/></g><g filter="url(#rough)"><path d="M383.0 557.1 L392.3 563.3 L403.0 581.8 L409.8 594.1 L404.9 596.0 L395.3 582.4 L386.1 569.5Z" fill="#4D4D4D"/><path d="M409.2 612.6 L430.8 621.9 L443.7 625.0 L437.6 644.1 L424.6 637.9 L412.3 625.6Z" fill="#4D4D4D"/><path d="M449.3 657.6 L462.2 655.8 L465.3 666.9 L453.0 670.0Z" fill="#4D4D4D"/><path d="M430.8 625.0 L440.0 623.7 L442.5 637.3 L434.5 640.4Z" fill="#4D4D4D"/></g></g><path d="M1164.5 856 Q1160 866 1152 872.5 Q1142 877 1130.5 879.5 L1122 880 L1106 878" fill="none" stroke="#A2F2DE" stroke-width="3" stroke-dasharray="9 3 5 5 10 4 4 9 4 14 4 20"/><path d="M315 630.5 L322 631.5 L326 629 L331 630.5 L335.5 630" fill="none" stroke="#FF9A40" stroke-width="3" stroke-linecap="round"/><circle cx="335.5" cy="651.3" r="2.4" fill="#BBAD05"/><circle cx="346" cy="645" r="1.1" fill="#7BDD08"/><path d="M354 644.2 L358 645 L361 648.5 L358.5 649.8 L355 647.5Z M354 655.3 L361 662.5 L360 664 L355 660.5Z" fill="#7BDD08"/><path d="M1000 266 L1010.5 262 L1011.5 263.5 L1001 267.5Z" fill="#B3695C" stroke="#F06AE0" stroke-width="0.8"/><path d="M267.2 235.6 L846.9 234.9 L848.6 231.2 L849.4 228.5 L848.5 227.0 L850.0 227.0 L851.9 226.3 L853.6 227.0 L856.5 227.1 L856.5 230.8 L856.8 233.4 L858.6 236.4 L858.9 239.4 L859.8 241.7 L862.2 242.9 L865.1 243.3 L867.4 244.2 L870.9 243.7 L875.4 244.8 L878.3 245.9 L881.5 246.0 L884.6 245.3 L887.4 245.3 L890.0 244.3 L892.3 246.6 L894.1 247.1 L897.3 247.7 L900.8 248.4 L903.6 250.4 L905.6 252.2 L909.9 251.8 L913.0 251.2 L916.9 253.4 L919.9 256.2 L923.1 258.1 L927.4 256.9 L930.9 256.2 L935.3 256.0 L937.4 255.3 L941.1 255.3 L945.7 256.4 L949.4 256.1 L953.6 257.0 L957.0 257.5 L961.0 258.5 L964.5 260.2 L965.9 262.2 L969.1 261.5 L965.5 262.7 L962.2 264.5 L958.3 265.1 L954.9 266.1 L952.7 268.6 L948.8 270.0 L945.9 270.8 L943.6 273.2 L941.8 275.6 L939.2 278.0 L936.6 281.1 L932.8 282.1 L930.3 282.9 L927.7 285.2 L925.3 286.5 L921.8 287.8 L918.7 289.9 L915.9 291.6 L913.8 295.0 L910.3 295.4 L913.1 295.3 L915.5 295.4 L918.8 294.3 L922.0 293.7 L925.2 291.9 L929.6 291.8 L933.2 290.0 L938.1 289.0 L940.1 290.7 L940.2 291.6 L939.6 294.2 L938.9 298.8 L942.5 298.0 L946.8 298.5 L950.0 297.5 L952.7 296.0 L955.7 294.1 L958.3 293.8 L961.0 292.3 L963.9 291.6 L966.4 291.5 L968.5 290.1 L970.5 288.3 L973.7 286.1 L976.5 285.9 L979.1 284.6 L981.9 283.8 L984.1 283.2 L986.5 281.5 L988.8 280.3 L991.7 279.5 L993.3 279.0 L995.3 276.7 L998.5 274.7 L1001.9 274.8 L1005.8 277.5 L1004.3 279.3 L1002.1 280.9 L1000.4 282.5 L998.2 285.3 L995.0 286.8 L993.4 288.9 L990.7 291.4 L992.9 294.7 L995.6 294.1 L998.9 293.8 L1001.1 294.9 L1002.7 295.7 L1005.7 296.7 L1008.5 297.6 L1012.5 298.8 L1016.6 299.7 L1020.2 300.4 L1024.5 299.3 L1028.8 299.7 L1032.1 299.8 L1035.0 298.5 L1038.2 297.7 L1041.6 295.3 L1045.1 296.1 L1048.1 295.7 L1051.5 294.5 L1055.8 294.3 L1058.9 294.4 L1062.8 293.8 L1064.1 295.3 L1066.1 298.1 L1064.5 300.3 L1067.5 301.0 L1069.9 302.3 L1072.3 301.6 L1076.0 303.0 L1078.9 302.6 L1080.2 305.1 L1081.3 307.0 L1083.4 309.3 L1086.5 311.5 L1088.2 314.0 L1089.6 316.1 L1086.6 316.1 L1083.7 315.5 L1081.0 316.2 L1077.1 316.0 L1072.8 314.9 L1070.2 316.1 L1066.3 318.0 L1062.7 316.1 L1059.1 313.7 L1056.2 312.8 L1053.6 312.2 L1050.0 314.8 L1046.0 315.1 L1042.1 316.5 L1038.2 317.9 L1034.8 318.4 L1031.5 319.3 L1028.2 319.6 L1027.1 319.4 L1024.9 319.5 L1022.8 318.6 L1021.6 321.5 L1019.4 323.6 L1017.8 326.1 L1016.0 328.6 L1013.8 330.0 L1012.8 333.4 L1010.3 335.3 L1007.7 337.2 L1006.9 339.9 L1006.4 343.6 L1004.3 346.5 L1002.5 350.6 L999.9 352.3 L998.9 353.5 L1001.6 351.4 L1004.3 348.4 L1007.1 346.9 L1009.5 343.8 L1011.4 341.1 L1013.5 337.2 L1016.8 334.5 L1019.5 334.0 L1020.7 330.5 L1023.0 333.0 L1021.8 335.8 L1020.3 339.1 L1018.3 341.3 L1016.1 344.4 L1015.1 348.5 L1012.7 350.9 L1010.9 352.7 L1010.0 355.0 L1008.6 357.2 L1008.7 360.2 L1008.6 363.1 L1007.7 367.2 L1006.7 369.9 L1007.3 373.7 L1006.1 377.1 L1005.1 380.8 L1004.6 384.0 L1003.6 387.0 L1004.3 390.2 L1004.2 394.5 L1003.7 397.4 L1003.3 400.5 L1003.6 403.2 L1003.3 406.8 L1004.2 410.2 L1003.5 414.3 L1005.4 416.5 L1007.4 419.5 L1008.4 422.9 L1010.8 426.0 L1013.2 428.2 L1015.9 429.2 L1019.4 428.2 L1023.1 426.4 L1026.4 424.9 L1027.3 422.3 L1029.0 419.2 L1030.4 417.1 L1032.3 413.4 L1034.4 411.0 L1034.9 408.0 L1034.3 404.7 L1035.5 401.1 L1035.3 398.4 L1035.0 394.5 L1034.7 391.1 L1033.9 387.4 L1033.7 383.5 L1034.9 380.4 L1033.0 377.6 L1032.3 374.6 L1031.5 371.9 L1030.9 368.5 L1031.8 365.8 L1033.2 363.3 L1032.5 360.2 L1034.1 356.9 L1035.8 354.7 L1036.0 351.5 L1036.8 348.0 L1038.1 343.5 L1040.7 339.7 L1044.4 338.0 L1045.7 336.1 L1047.2 334.7 L1048.3 336.7 L1050.8 338.8 L1051.6 336.5 L1053.0 334.1 L1054.0 331.3 L1054.7 326.3 L1057.7 324.8 L1060.2 323.1 L1062.0 321.7 L1064.2 319.8 L1067.9 320.1 L1071.2 320.3 L1073.7 322.7 L1075.9 323.5 L1079.1 324.8 L1082.6 326.6 L1085.0 329.4 L1086.8 331.0 L1088.8 333.4 L1090.7 333.4 L1093.7 335.7 L1096.0 338.8 L1096.6 341.5 L1097.6 343.8 L1099.2 347.6 L1098.3 350.3 L1098.1 353.7 L1096.9 356.5 L1095.3 358.1 L1094.4 360.6 L1093.8 363.7 L1089.9 366.4 L1087.5 369.2 L1085.6 372.4 L1085.4 376.4 L1088.4 375.8 L1092.3 375.0 L1094.0 373.6 L1095.9 370.2 L1099.1 367.5 L1103.2 365.5 L1107.7 365.6 L1108.7 368.2 L1110.9 369.3 L1113.4 371.5 L1113.0 375.5 L1114.2 379.0 L1115.7 382.6 L1116.0 386.3 L1116.2 390.7 L1115.1 393.1 L1115.1 396.9 L1114.5 400.9 L1112.4 403.5 L1110.7 406.4 L1109.1 409.2 L1107.6 411.7 L1104.4 413.2 L1102.7 416.6 L1101.6 418.7 L1100.6 421.4 L1099.5 424.0 L1097.8 426.3 L1094.9 428.3 L1096.8 429.5 L1099.2 430.3 L1102.1 430.9 L1104.9 432.0 L1107.2 433.8 L1109.3 434.3 L1113.3 433.7 L1116.8 431.3 L1120.7 430.0 L1124.4 430.2 L1127.4 431.0 L1130.5 429.5 L1133.7 429.1 L1136.6 427.5 L1139.8 426.5 L1142.1 424.6 L1144.6 422.3 L1148.8 420.8 L1152.0 420.4 L1155.5 419.6 L1156.6 420.5 L1159.0 419.0 L1161.9 417.2 L1165.4 415.0 L1168.8 414.6 L1172.1 412.1 L1175.6 410.6 L1179.0 408.9 L1181.9 407.5 L1184.3 406.6 L1185.3 404.0 L1187.5 400.8 L1190.6 399.5 L1189.7 395.4 L1188.1 392.8 L1187.5 389.7 L1187.4 385.9 L1192.1 385.7 L1194.9 385.5 L1198.7 383.8 L1203.0 384.4 L1206.7 385.1 L1210.6 386.3 L1213.6 386.3 L1217.8 387.1 L1220.8 387.5 L1223.3 387.0 L1226.5 385.7 L1229.8 385.8 L1232.1 383.2 L1236.0 382.2 L1238.9 381.7 L1241.2 380.6 L1244.4 379.8 L1248.0 378.6 L1248.0 376.4 L1248.0 373.1 L1247.9 370.1 L1245.5 367.9 L1244.1 364.4 L1247.8 362.7 L1249.6 360.8 L1252.6 358.2 L1255.0 355.4 L1257.9 352.2 L1260.6 349.6 L1262.8 346.8 L1267.1 344.2 L1270.2 344.6 L1272.9 343.8 L1275.4 343.5 L1278.2 341.0 L1345.8 340.4 L1346.9 337.5 L1348.6 336.3 L1351.5 333.9 L1355.5 332.9 L1357.7 334.2 L1360.3 334.5 L1360.4 332.7 L1360.6 329.9 L1363.4 328.3 L1365.4 325.3 L1368.3 323.9 L1370.6 322.4 L1371.3 319.7 L1372.1 316.7 L1372.2 313.1 L1370.5 308.9 L1373.6 306.2 L1375.6 303.8 L1376.7 299.4 L1379.2 296.5 L1380.3 293.7 L1382.6 290.7 L1384.5 287.6 L1387.5 284.9 L1390.1 282.3 L1391.3 279.3 L1394.0 276.4 L1395.1 278.6 L1397.4 280.1 L1398.8 281.7 L1400.1 283.1 L1403.4 281.4 L1407.3 279.3 L1411.3 279.6 L1413.7 279.0 L1416.4 281.4 L1419.0 283.3 L1420.9 285.3 L1423.5 286.3 L1423.6 289.4 L1425.6 293.6 L1424.5 297.6 L1423.9 301.2 L1424.4 304.7 L1424.6 308.3 L1425.8 312.2 L1424.6 316.1 L1427.3 318.8 L1430.3 322.1 L1431.2 326.1 L1430.7 328.6 L1430.1 331.7 L1430.6 335.1 L1434.9 336.0 L1438.8 338.1 L1440.0 341.5 L1442.1 346.5 L1439.7 348.9 L1436.4 351.5 L1433.5 351.6 L1431.3 352.8 L1428.9 354.6 L1424.3 356.1 L1421.0 357.1 L1417.1 358.0 L1414.7 359.3 L1412.9 361.4 L1409.5 360.3 L1407.5 358.5 L1403.6 357.3 L1403.5 361.2 L1402.8 366.1 L1399.4 367.2 L1396.2 368.4 L1393.3 369.2 L1389.4 371.2 L1385.9 371.3 L1383.2 372.7 L1380.8 373.5 L1377.7 374.7 L1375.3 376.5 L1372.3 378.3 L1369.5 380.3 L1369.4 383.8 L1368.0 387.5 L1365.9 391.0 L1364.1 394.2 L1361.9 396.3 L1364.6 399.1 L1364.1 403.7 L1360.6 404.4 L1358.0 406.4 L1357.3 408.6 L1356.2 411.9 L1360.0 412.4 L1362.5 414.9 L1363.4 417.9 L1364.9 421.0 L1366.4 423.4 L1367.4 426.2 L1369.6 426.0 L1372.8 426.3 L1375.1 426.7 L1376.2 424.1 L1377.4 423.5 L1376.0 420.6 L1374.8 418.7 L1373.2 419.4 L1375.7 422.5 L1376.6 425.4 L1379.1 427.2 L1376.5 427.4 L1374.5 428.4 L1372.3 429.4 L1368.1 432.5 L1363.8 432.5 L1362.8 430.3 L1361.8 428.1 L1359.8 429.5 L1357.3 431.6 L1353.7 433.7 L1352.6 430.2 L1350.7 428.0 L1349.3 430.7 L1347.3 432.4 L1347.1 434.9 L1345.9 435.9 L1343.5 436.2 L1341.2 435.6 L1339.5 436.8 L1335.3 438.9 L1331.7 438.9 L1327.6 439.7 L1323.7 440.5 L1320.1 440.5 L1316.4 440.8 L1312.6 440.1 L1309.8 442.3 L1306.5 444.2 L1303.6 445.7 L1301.0 447.4 L1298.3 449.1 L1296.1 449.9 L1294.8 452.9 L1293.1 454.7 L1296.5 455.8 L1299.6 456.0 L1303.3 455.5 L1307.1 454.5 L1312.0 453.3 L1315.8 453.8 L1319.1 452.9 L1322.3 451.3 L1325.8 451.3 L1328.5 449.1 L1331.4 448.1 L1334.1 445.9 L1337.5 444.8 L1334.6 443.9 L1332.7 442.4 L1329.8 443.1 L1327.0 444.3 L1324.4 446.1 L1321.0 448.2 L1317.9 448.2 L1314.6 448.2 L1311.2 449.8 L1307.3 448.8 L1304.4 448.3 L1301.5 448.7 L1298.6 449.1 L1296.1 451.4 L1293.7 454.5 L1291.0 456.8 L1288.9 459.7 L1291.6 459.7 L1293.9 460.9 L1293.3 465.1 L1293.0 468.9 L1292.6 472.3 L1292.7 476.4 L1290.1 480.1 L1288.4 483.3 L1286.8 486.0 L1284.0 488.1 L1281.9 490.5 L1279.0 493.2 L1277.7 494.8 L1276.4 498.0 L1272.6 501.7 L1271.2 497.6 L1269.7 494.2 L1268.0 491.1 L1264.4 489.8 L1261.6 486.9 L1261.8 484.3 L1260.6 482.1 L1262.6 484.9 L1262.8 488.5 L1264.6 491.5 L1264.9 495.3 L1265.7 497.9 L1268.1 500.4 L1270.7 504.2 L1271.3 506.7 L1272.0 510.3 L1272.2 513.9 L1271.6 517.2 L1269.8 520.4 L1267.7 523.4 L1266.3 524.7 L1265.2 528.2 L1263.4 531.1 L1262.0 534.7 L1259.6 537.2 L1257.3 539.4 L1256.6 542.3 L1254.3 545.3 L1253.5 547.9 L1252.4 546.4 L1251.5 544.3 L1251.4 541.1 L1252.0 537.6 L1252.5 533.3 L1254.9 530.3 L1255.8 527.8 L1253.7 524.4 L1251.8 521.5 L1250.2 518.9 L1248.2 516.5 L1247.2 513.2 L1246.1 508.1 L1246.5 504.2 L1246.3 500.8 L1247.1 497.4 L1247.9 494.2 L1248.5 489.8 L1250.6 487.4 L1248.2 489.0 L1245.7 491.0 L1243.3 492.1 L1241.2 495.1 L1240.5 498.4 L1239.4 501.2 L1241.2 504.4 L1242.2 508.0 L1242.5 511.3 L1243.5 514.2 L1244.3 518.1 L1244.4 521.0 L1243.5 524.4 L1241.2 521.9 L1238.6 520.7 L1235.4 520.0 L1231.7 517.4 L1230.8 515.3 L1229.7 514.0 L1231.4 517.1 L1233.6 519.2 L1235.9 521.8 L1237.8 524.8 L1240.1 526.5 L1243.6 529.3 L1245.1 534.7 L1241.3 533.5 L1239.7 532.3 L1240.0 535.1 L1242.5 537.2 L1244.0 540.4 L1244.8 541.9 L1242.8 543.7 L1240.5 545.3 L1243.0 548.6 L1244.8 552.0 L1242.6 549.3 L1241.6 547.2 L1237.2 546.4 L1240.0 548.2 L1242.7 550.8 L1245.1 552.7 L1248.6 553.0 L1252.2 553.5 L1253.8 557.8 L1253.4 561.3 L1253.1 564.3 L1254.2 566.8 L1255.3 569.8 L1256.6 572.3 L1258.0 576.9 L1259.3 580.1 L1261.8 583.7 L1261.9 587.6 L1261.7 590.5 L1262.2 594.3 L1263.4 598.3 L1259.8 600.8 L1255.5 601.7 L1251.7 601.7 L1248.8 604.4 L1245.6 605.6 L1242.4 608.1 L1240.6 610.7 L1240.8 614.6 L1236.1 616.1 L1232.1 614.5 L1228.5 614.0 L1225.6 615.7 L1223.4 618.5 L1221.0 621.5 L1217.4 623.0 L1216.4 625.8 L1214.7 629.4 L1212.5 631.9 L1210.4 633.4 L1206.9 632.5 L1203.6 632.1 L1200.2 635.1 L1196.6 635.9 L1193.1 637.4 L1191.7 641.0 L1189.5 643.9 L1187.4 647.3 L1184.0 649.3 L1183.0 652.4 L1181.3 656.2 L1177.9 658.4 L1174.9 660.6 L1171.4 662.1 L1169.6 664.9 L1166.3 667.0 L1163.3 668.6 L1161.4 671.4 L1158.7 674.9 L1156.4 678.3 L1152.1 680.6 L1148.9 682.4 L1147.1 685.5 L1144.5 688.7 L1142.5 691.1 L1141.5 694.5 L1141.3 697.5 L1141.4 701.4 L1140.0 704.9 L1137.9 707.6 L1138.5 710.7 L1137.6 714.0 L1137.4 717.3 L1137.9 721.4 L1138.2 724.9 L1138.7 728.1 L1139.8 732.5 L1138.9 735.9 L1139.4 738.8 L1139.4 741.7 L1141.4 745.0 L1144.0 748.6 L1144.2 752.5 L1146.6 755.6 L1147.5 759.7 L1149.1 763.6 L1150.8 766.9 L1152.0 769.9 L1155.5 772.9 L1156.0 777.7 L1155.3 780.9 L1154.6 783.5 L1154.0 786.9 L1154.8 790.0 L1156.2 793.7 L1156.5 796.2 L1158.9 799.4 L1161.1 803.4 L1161.7 807.3 L1163.2 810.8 L1163.0 814.1 L1165.5 817.2 L1166.5 821.0 L1165.7 824.4 L1166.0 827.7 L1165.4 832.0 L1165.7 835.8 L1164.1 839.3 L1163.3 841.5 L1163.8 844.3 L1164.9 847.9 L1163.1 850.8 L1163.1 854.2 L1161.8 857.4 L1160.4 860.8 L1157.6 862.8 L1154.7 863.6 L1151.5 863.5 L1149.8 863.2 L1147.0 864.2 L1144.4 864.8 L1143.6 862.0 L1143.0 858.5 L1141.0 855.5 L1139.2 853.2 L1136.0 850.1 L1134.7 846.9 L1131.7 844.7 L1130.1 841.5 L1128.8 837.6 L1127.6 832.9 L1128.1 829.0 L1125.1 826.9 L1122.9 824.0 L1121.0 821.5 L1119.2 818.1 L1117.7 815.1 L1114.1 811.4 L1113.4 807.3 L1113.1 804.6 L1111.7 802.4 L1110.2 799.7 L1111.9 797.5 L1112.9 794.3 L1115.3 792.9 L1111.8 792.0 L1107.4 789.6 L1109.0 785.7 L1110.4 782.9 L1111.8 779.5 L1111.2 776.6 L1110.2 772.8 L1110.4 769.0 L1110.9 765.5 L1107.3 764.2 L1105.3 761.5 L1102.3 759.2 L1101.3 755.2 L1099.7 752.4 L1096.7 749.6 L1095.4 745.1 L1093.3 742.5 L1091.7 739.4 L1089.9 736.9 L1087.3 735.6 L1084.8 734.7 L1081.5 732.3 L1079.7 734.9 L1076.7 738.2 L1074.0 740.4 L1070.4 742.3 L1067.3 743.9 L1064.5 744.6 L1061.7 747.2 L1058.0 745.0 L1054.9 744.6 L1054.4 741.4 L1053.8 737.4 L1050.8 736.0 L1048.5 733.5 L1047.3 730.9 L1044.0 730.7 L1041.1 729.7 L1037.7 728.2 L1035.0 727.1 L1030.7 727.3 L1027.3 727.9 L1022.4 727.6 L1018.6 726.6 L1015.5 726.5 L1012.6 727.6 L1009.9 728.2 L1006.2 729.7 L1003.1 728.8 L1000.4 730.0 L999.2 726.4 L999.0 722.5 L998.7 718.6 L998.0 721.8 L997.0 723.8 L996.2 728.1 L992.2 728.7 L988.6 727.8 L985.5 726.2 L982.0 726.7 L979.1 725.6 L975.4 725.8 L972.7 727.0 L970.9 728.3 L969.2 730.3 L965.2 733.3 L961.8 731.3 L958.7 729.9 L955.7 728.6 L958.1 731.3 L959.9 734.1 L963.6 734.9 L966.2 735.0 L970.3 735.0 L970.1 738.7 L969.8 741.8 L967.0 742.9 L963.6 746.4 L966.3 748.1 L969.6 751.3 L971.4 754.0 L974.2 756.1 L977.6 759.4 L975.8 761.4 L972.8 763.7 L970.2 761.1 L969.1 759.2 L965.8 757.7 L962.3 755.9 L959.8 753.6 L957.0 756.2 L954.6 757.3 L951.3 759.1 L947.7 759.0 L945.0 759.2 L941.9 759.2 L937.9 759.1 L934.7 758.4 L930.2 756.8 L927.8 754.1 L925.1 752.5 L921.8 751.0 L918.7 748.2 L916.3 748.6 L913.5 747.8 L911.0 747.8 L907.5 748.1 L903.9 746.9 L900.8 745.3 L898.7 745.1 L894.8 744.4 L891.2 743.9 L887.4 743.2 L883.5 743.7 L879.8 744.5 L874.9 745.0 L871.9 744.6 L869.3 745.4 L866.8 745.5 L864.4 747.3 L861.1 749.7 L857.2 750.6 L854.8 748.1 L852.9 744.1 L854.5 747.8 L855.6 751.1 L856.8 754.3 L854.9 757.5 L851.0 760.5 L847.8 762.3 L844.7 763.8 L841.3 765.5 L838.6 767.5 L835.0 769.5 L833.2 771.7 L831.0 774.1 L828.1 776.7 L825.0 778.2 L821.4 779.2 L820.1 775.4 L818.4 773.2 L816.9 776.9 L814.8 779.9 L813.7 782.8 L812.7 787.0 L810.0 788.4 L807.1 791.0 L803.9 792.8 L803.4 795.3 L803.7 798.5 L803.2 802.7 L802.8 805.5 L802.7 809.7 L802.4 813.4 L802.3 817.7 L801.6 821.4 L800.8 824.3 L802.8 827.2 L803.9 830.5 L805.6 833.7 L805.2 837.0 L805.5 840.0 L806.9 842.1 L805.2 842.7 L800.9 842.0 L797.9 841.5 L794.1 841.6 L790.5 842.2 L787.1 841.9 L782.9 841.1 L780.2 838.7 L777.6 837.6 L774.7 835.4 L771.7 833.9 L769.3 832.5 L766.7 831.5 L764.8 828.9 L761.4 825.2 L760.5 821.4 L759.9 817.9 L758.2 814.2 L756.7 810.8 L754.9 806.3 L753.1 803.5 L750.3 800.5 L748.3 796.4 L747.6 792.9 L746.1 789.7 L744.7 787.9 L741.8 785.3 L739.8 782.0 L738.2 778.9 L735.6 776.5 L734.6 772.7 L732.6 769.7 L731.7 766.1 L731.0 763.4 L728.6 760.8 L725.5 757.2 L724.5 753.9 L722.8 750.4 L721.1 747.4 L718.5 744.6 L715.3 741.4 L712.9 741.0 L709.0 742.4 L705.0 742.3 L700.7 742.5 L697.4 741.7 L693.6 741.6 L690.4 743.9 L687.4 746.7 L686.1 750.0 L684.7 753.3 L682.6 756.6 L680.5 760.5 L679.4 761.9 L676.4 761.8 L673.4 760.7 L669.9 759.3 L666.1 757.7 L662.5 755.1 L658.5 753.6 L655.9 749.6 L654.1 746.2 L651.8 744.8 L650.4 741.1 L647.8 737.8 L647.7 733.5 L646.3 730.5 L644.3 727.2 L643.2 723.3 L641.5 721.0 L639.5 717.7 L636.8 715.7 L633.2 713.7 L630.8 710.7 L629.4 707.6 L626.5 706.1 L624.9 703.2 L622.5 701.5 L620.1 698.9 L617.9 697.0 L614.7 695.6 L611.3 692.2 L609.8 689.2 L608.3 686.3 L609.0 689.0 L605.0 689.6 L600.5 690.2 L597.1 689.1 L593.0 690.2 L588.8 689.4 L584.6 688.6 L581.1 688.0 L578.3 688.1 L574.0 688.9 L573.6 692.7 L573.9 696.9 L573.5 701.2 L513.3 701.2 L434.7 670.6 L435.4 667.5 L436.4 664.6 L385.4 669.6 L384.8 665.3 L384.4 661.6 L382.6 659.6 L381.2 656.4 L380.2 654.2 L378.9 651.1 L378.7 648.4 L378.1 646.3 L376.1 644.4 L373.2 642.2 L372.4 638.8 L369.1 638.3 L366.3 636.5 L363.7 635.0 L360.6 634.0 L357.1 632.4 L354.5 629.7 L351.6 630.1 L349.4 628.5 L347.4 626.8 L344.8 625.6 L342.1 623.6 L339.2 622.0 L336.8 621.4 L332.7 620.7 L329.9 619.0 L326.5 619.0 L322.8 619.0 L318.5 618.6 L313.1 616.1 L313.8 612.0 L312.1 608.3 L311.7 605.2 L311.6 601.9 L310.4 598.5 L309.0 596.2 L306.7 594.6 L303.8 591.7 L302.3 588.7 L300.9 585.9 L298.5 583.9 L296.3 580.6 L293.0 577.6 L292.0 573.6 L289.7 571.5 L287.1 569.2 L286.0 565.6 L287.5 563.3 L287.7 560.9 L287.2 557.8 L285.9 556.2 L283.7 554.0 L281.8 551.3 L280.8 548.6 L279.5 546.4 L276.8 544.6 L276.0 540.9 L277.7 539.2 L279.6 538.0 L280.0 534.2 L278.9 530.9 L276.6 529.1 L274.8 525.8 L274.1 523.6 L271.1 522.9 L268.5 521.7 L266.8 521.4 L264.5 518.9 L262.1 516.6 L261.7 514.1 L259.0 512.7 L256.3 510.3 L253.9 507.8 L251.4 504.5 L249.6 501.5 L248.9 498.3 L246.1 495.3 L246.3 491.4 L245.2 488.6 L244.6 485.5 L243.4 481.9 L242.1 478.6 L241.8 474.5 L242.0 472.2 L239.7 470.6 L238.4 468.2 L235.9 465.7 L234.2 463.4 L231.8 460.0 L233.0 456.2 L232.9 451.2 L235.5 449.1 L237.6 447.1 L239.0 444.7 L237.9 441.4 L237.3 438.0 L235.4 433.8 L235.7 430.3 L234.7 427.0 L233.6 423.0 L233.9 419.1 L232.6 416.1 L232.9 413.0 L231.4 409.8 L229.6 406.0 L229.5 402.0 L230.3 399.1 L229.4 395.9 L230.9 393.2 L231.3 390.0 L232.5 386.8 L232.5 383.9 L231.8 380.6 L232.5 375.9 L233.7 372.8 L234.4 369.4 L235.5 366.5 L235.5 362.9 L235.3 359.1 L237.2 356.0 L237.0 352.9 L237.4 348.8 L238.2 345.6 L239.9 342.4 L240.8 339.3 L241.2 337.0 L239.9 333.3 L240.8 329.6 L240.4 326.2 L240.4 322.9 L240.7 319.0 L240.7 315.6 L241.1 311.1 L241.9 308.4 L240.9 305.2 L239.8 301.9 L239.9 298.6 L239.6 295.4 L239.0 291.8 L238.0 289.6 L236.3 286.0 L235.3 282.9 L234.1 279.9 L231.4 276.3 L229.8 272.5 L228.6 267.3 L228.8 263.6 L227.7 260.1 L226.5 256.7 L226.9 254.4 L226.4 251.6 L229.0 252.5 L231.8 252.3 L235.5 252.1 L239.0 253.6 L241.5 255.7 L245.0 255.2 L247.9 255.9 L250.9 256.0 L254.4 256.4 L257.0 256.9 L260.0 257.2 L263.7 257.7 L262.9 262.7 L260.4 264.9 L258.9 268.5 L259.4 270.8 L260.7 273.5 L261.0 278.0 L259.2 281.8 L261.5 283.7 L263.0 286.7 L265.7 285.7 L268.7 285.6 L270.6 283.7 L272.9 282.6 L274.6 281.0 L274.0 276.8 L275.9 273.7 L275.8 269.7 L275.4 266.3 L276.9 263.7 L277.6 260.5 L277.8 256.4 L276.3 253.6 L273.8 250.7 L272.3 247.1 L270.6 244.2 L268.5 241.3 L268.9 238.2Z M387.6 235.6 L387.6 303.6 L390.1 314.6 M241.5 308.4 L244.8 308.8 L247.0 308.4 L250.7 307.2 L254.5 308.1 L259.4 308.4 L261.1 311.0 L262.8 313.3 L264.2 315.0 L265.7 317.9 L266.9 322.1 L269.3 323.3 L272.7 325.4 L275.9 324.5 L279.7 323.6 L283.5 323.4 L286.4 324.4 L289.6 322.6 L293.1 321.8 L296.5 321.9 L300.0 322.5 L303.6 322.9 L306.4 321.4 L311.0 320.8 L314.5 321.6 L317.5 320.7 L320.1 319.3 L323.0 318.0 L326.6 316.1 L330.0 316.3 L332.9 314.7 L336.7 314.2 L340.3 313.9 L343.2 314.7 L346.5 314.3 L349.7 314.5 L353.9 312.7 L358.1 313.6 L361.7 314.5 L365.5 314.0 L369.1 314.8 L372.7 314.2 L375.8 315.2 L378.9 314.1 L382.7 312.3 L386.9 312.7 L390.1 313.8 M391.4 313.7 L392.9 316.0 L395.3 318.3 L397.6 320.0 L399.6 322.1 L399.0 326.2 L397.2 329.3 L397.2 332.0 L395.4 334.9 L393.7 337.4 L391.5 339.4 L390.0 341.9 L388.4 344.6 L388.6 347.6 L387.1 351.3 L385.4 353.4 L384.6 355.9 L384.2 357.6 L386.9 359.3 L388.3 361.9 L388.1 365.6 L387.8 368.8 L387.8 419.9 M236.9 420.0 L513.7 420.0 M406.8 235.4 L408.2 238.7 L408.6 242.2 L410.0 246.6 L409.2 251.0 L408.7 254.8 L409.5 258.6 L408.3 262.6 L409.6 265.3 L410.7 268.3 L412.3 270.4 L414.3 273.2 L416.6 276.3 L418.2 279.5 L421.3 281.3 L423.8 283.7 L427.5 285.6 L430.9 287.8 L432.7 290.2 L436.2 291.8 L439.0 295.3 L440.6 298.3 L440.8 301.7 L441.9 304.5 L443.4 306.2 L443.8 309.9 L442.1 313.1 L442.7 316.1 L442.5 319.5 L441.9 323.3 L441.1 326.3 L444.1 325.4 L446.8 325.6 L448.9 322.9 L453.6 322.0 L455.1 326.2 L456.6 329.8 L458.0 333.9 L459.8 336.8 L460.4 341.0 L461.6 344.2 L464.9 345.8 L468.5 348.3 L471.3 350.6 L473.6 354.3 L475.6 356.8 L478.6 355.1 L481.7 354.3 L485.0 354.3 L487.1 352.6 L490.8 352.7 L494.2 352.4 L498.3 352.5 L501.4 353.7 L505.4 354.3 L506.2 351.2 L507.7 348.5 L509.4 350.2 L512.0 351.9 L513.7 354.7 M513.7 341.0 L513.7 446.4 L555.8 446.4 M513.7 341.0 L661.0 341.0 M661.0 235.6 L661.0 446.4 M513.7 446.4 L703.1 446.4 L703.1 472.8 M325.3 420.0 L325.3 499.1 L438.3 604.5 M450.8 420.0 L450.8 572.9 M451.9 574.8 L449.0 576.8 L445.9 578.7 L441.3 577.6 L438.3 576.2 L437.5 579.6 L435.7 581.8 L435.1 584.4 L434.4 586.4 L435.4 589.4 L435.9 592.6 L437.7 595.8 L437.8 599.2 L438.0 601.5 L438.2 604.7 L439.7 608.6 L440.4 612.1 L442.8 615.3 L443.3 618.5 L445.3 620.9 L447.1 625.0 L445.0 627.8 L442.4 629.7 L441.3 631.4 L439.7 634.0 L438.7 635.8 L437.8 638.7 L437.2 642.7 L436.4 646.4 L439.4 649.6 L439.8 654.5 L438.3 658.3 L436.6 661.6 L436.5 664.9 M450.8 551.8 L859.5 551.8 M555.8 446.4 L555.9 701.2 M703.1 472.8 L703.1 551.8 M703.1 472.8 L845.2 472.8 M683.2 551.8 L682.3 565.0 L681.9 683.5 L606.9 683.5 L608.8 689.3 M682.3 565.0 L746.3 565.0 L746.3 616.1 M747.4 616.8 L750.5 617.2 L753.2 618.9 L755.6 620.1 L759.8 620.4 L764.0 622.1 L766.6 624.9 L769.8 626.4 L771.9 628.5 L774.1 628.8 L777.0 630.3 L779.6 631.5 L782.7 632.7 L786.9 632.5 L790.8 633.6 L795.2 634.0 L798.7 634.2 L801.8 632.5 L805.3 633.8 L807.5 636.0 L811.2 634.1 L815.3 634.2 L817.9 635.5 L820.6 636.8 L823.4 638.3 L826.7 638.8 L829.8 636.0 L832.6 634.7 L836.1 633.1 L840.0 632.8 M661.0 316.2 L818.7 316.2 M661.0 393.7 L777.9 393.7 L788.4 399.5 L801.0 397.1 L810.5 401.1 L817.9 406.3 L821.0 407.1 M840.0 632.1 L846.3 631.6 L852.6 635.4 L858.9 638.6 L864.0 641.2 M804.4 236.9 L804.5 239.1 L805.9 242.0 L806.5 245.2 L807.5 248.4 L809.2 251.2 L809.9 254.7 L812.2 258.0 L812.8 262.5 L812.5 265.7 L812.3 268.8 L813.2 272.7 L813.5 275.9 L813.9 279.9 L813.0 283.3 L814.6 286.3 L815.7 289.5 L815.2 293.2 L815.8 295.7 L817.2 298.7 L818.7 301.2 L821.2 305.5 L821.1 308.9 L820.0 311.7 L820.1 315.2 L817.2 318.4 L814.6 320.4 L812.1 323.8 L813.6 325.6 L815.5 327.3 L818.5 328.6 L821.0 331.4 L820.1 334.6 L820.2 338.5 L820.7 341.9 L821.5 345.8 L821.5 349.9 L821.8 353.0 L822.7 358.1 L822.2 362.5 L821.2 366.6 L820.4 370.1 L820.8 373.1 L820.5 377.6 L821.1 380.4 L818.8 383.5 L819.2 387.1 L818.5 390.5 L818.2 394.5 L816.6 397.3 L817.4 401.6 L815.8 404.1 L813.7 406.1 M821.4 407.5 L821.2 410.7 L822.5 413.7 L824.7 416.9 L825.9 420.3 L827.9 424.3 L828.6 427.8 L830.6 430.9 L831.0 434.3 L830.7 437.9 L830.7 439.9 L831.4 442.8 L831.8 445.5 L834.0 448.5 L834.1 451.5 L834.8 454.2 L834.8 456.7 L838.3 459.0 L840.3 462.7 L842.2 465.8 L843.0 469.3 L845.2 472.2 L848.9 473.8 L851.5 477.0 L852.1 478.8 L853.5 479.5 L852.1 482.3 L851.5 484.4 L850.8 487.8 L852.6 489.8 L854.0 491.9 L855.5 494.1 L859.8 495.9 L859.5 565.0 M821.0 380.5 L931.1 380.5 M835.3 456.9 L920.4 456.7 L925.2 460.9 L926.9 462.7 M910.6 295.9 L910.4 299.3 L910.0 303.1 L907.6 306.2 L906.4 309.1 L904.8 310.8 L903.3 312.6 L901.3 315.5 L898.9 317.1 L896.9 320.1 L896.8 323.0 L897.7 327.0 L899.7 330.7 L898.5 334.6 L897.8 338.2 L900.5 341.8 L900.6 345.9 L903.3 348.8 L905.2 352.3 L907.6 353.7 L910.0 354.7 L912.8 356.8 L914.6 358.6 L917.5 358.9 L920.7 360.7 L924.0 363.0 L926.3 365.9 L928.0 369.2 L929.3 372.0 L931.5 376.6 L931.6 380.3 L931.5 384.0 L931.8 388.1 L932.3 391.7 L934.1 394.8 L933.7 397.5 L935.8 399.6 L939.5 401.1 L943.0 403.5 L946.8 406.1 L947.6 409.4 L949.0 411.2 L951.0 414.0 L951.9 417.0 L952.1 419.8 L952.7 421.5 L952.3 425.6 L951.4 429.5 L947.4 431.5 L943.8 431.9 L940.8 433.5 L939.0 436.7 L935.5 438.6 L935.8 441.7 L934.8 444.9 M938.1 445.8 L937.0 448.4 L935.0 450.9 L933.4 453.2 L930.6 454.4 L928.7 456.2 L926.8 459.2 L925.5 462.2 L926.3 465.7 L927.3 469.6 L929.2 473.2 L931.2 476.9 L931.2 480.6 L934.7 482.8 L937.7 485.9 L939.8 489.2 L941.7 492.4 L942.0 496.0 L944.2 498.9 L946.9 500.9 L948.9 502.6 L950.6 501.6 L952.8 504.3 L954.0 507.2 L953.1 511.2 L951.0 514.0 L949.4 516.1 L952.2 519.6 L953.9 523.9 L955.9 525.4 L958.3 527.6 L960.9 529.3 L963.5 531.2 L964.8 533.9 L965.9 536.5 L966.0 539.1 L967.4 542.6 L967.9 546.5 L970.6 547.8 L972.7 549.4 L975.4 552.2 M974.4 552.0 L974.7 554.2 L974.8 556.3 L973.5 559.3 L970.9 562.4 L968.2 564.1 L966.9 566.5 L965.7 569.0 L964.5 572.2 L962.1 574.7 L960.2 577.8 L958.3 579.8 L959.0 582.4 L958.6 585.7 L957.3 589.7 L956.0 592.6 L955.0 596.3 L953.6 598.6 L953.9 601.7 L952.1 604.5 L949.9 606.6 L948.5 608.7 L947.1 611.8 L944.5 615.6 L942.8 619.3 L939.8 621.5 L938.3 624.3 L937.0 627.9 L934.6 631.0 L934.9 634.1 L933.7 637.8 L933.1 641.6 L932.5 645.6 L931.2 648.9 L930.2 651.5 L932.7 655.1 L933.6 658.5 L934.9 662.0 L934.9 664.8 L935.5 667.5 L935.8 669.9 M859.7 565.0 L953.5 565.0 L956.5 569.1 L950.9 576.1 L948.4 577.9 L961.0 577.6 M858.5 564.8 L859.6 568.0 L861.8 572.1 L860.7 576.0 L861.2 579.4 L861.9 582.8 L862.9 586.4 L864.2 590.1 L863.5 594.0 L862.5 641.1 L865.2 640.9 L868.7 641.3 L872.5 643.4 L871.7 646.8 L871.3 650.6 L870.7 653.6 L871.2 657.7 L870.9 661.1 L871.0 663.9 L872.8 668.0 L872.7 672.2 L873.1 676.8 L871.9 680.3 L871.6 683.6 L873.5 687.0 L873.7 690.8 L875.5 693.3 L876.3 696.8 L878.7 699.8 L880.6 703.1 L881.1 706.1 L880.4 708.4 L880.4 712.7 L880.3 716.5 L879.8 720.3 L879.4 724.1 L878.9 727.5 L879.0 732.2 L876.6 735.0 L875.7 737.6 L875.3 740.6 L875.8 744.2 M871.8 656.7 L932.2 657.2 M932.0 657.5 L932.6 660.5 L933.5 664.6 L934.0 667.5 L935.4 670.6 L936.3 673.4 L937.9 675.7 L936.3 678.6 L934.0 681.5 L931.8 682.6 L930.8 685.3 L929.6 687.8 L929.1 690.7 L927.7 694.2 L926.3 697.0 L924.9 699.8 L925.5 703.8 L924.1 707.4 L923.6 709.9 L927.2 710.9 L930.8 710.8 L934.8 709.1 L939.3 710.2 L942.7 710.2 L946.4 710.5 L950.4 710.5 L954.4 709.8 L958.0 710.3 L964.2 709.9 L962.9 713.6 L961.5 717.1 L960.4 719.6 L961.1 723.0 L961.8 725.7 L964.3 728.6 L965.2 731.8 M943.3 406.9 L1003.1 406.9 M1008.8 426.6 L1008.8 489.9 M1008.4 494.2 L1009.9 499.2 L1009.4 505.5 L1003.9 515.6 L999.4 524.4 L997.6 532.0 M975.7 551.4 L978.4 550.2 L981.0 546.9 L985.2 545.4 L989.3 544.3 L990.8 541.9 L992.7 540.9 L993.2 537.7 L995.4 534.9 L997.4 532.6 L998.9 530.4 L1000.6 527.4 L1004.7 526.9 L1008.2 525.6 L1012.5 527.2 L1014.4 529.7 L1018.1 531.1 L1019.8 528.7 L1022.5 527.4 L1024.0 525.1 L1027.0 524.0 L1029.2 522.9 L1031.6 520.2 L1034.6 522.1 L1037.3 524.0 L1040.6 525.5 L1041.9 521.7 L1043.2 517.9 L1046.0 514.2 L1049.1 512.2 L1051.9 510.4 L1054.5 507.2 L1057.6 506.4 L1060.8 505.6 L1064.9 505.5 L1066.1 502.3 L1067.8 498.4 L1071.6 498.5 L1073.8 498.3 L1077.2 499.7 L1079.2 501.9 L1082.0 504.0 L1085.6 504.6 L1088.7 505.7 L1092.1 505.6 L1096.7 506.6 L1099.6 508.1 L1103.1 509.2 L1105.5 508.1 L1106.3 506.1 L1108.5 507.3 L1111.5 509.3 L1113.6 512.2 L1114.8 509.9 L1116.5 508.0 L1118.2 505.4 L1120.2 503.1 L1122.4 501.4 L1125.4 498.6 L1127.0 496.2 L1129.8 492.0 L1133.3 491.5 L1136.4 490.7 L1139.2 489.4 L1142.1 488.6 M1113.6 511.1 L1116.9 520.6 L1121.9 532.0 L1126.2 538.3 L1092.1 561.5 M1023.7 426.4 L1066.3 426.4 L1094.3 427.2 M1066.3 426.4 L1065.8 496.5 M967.3 565.0 L997.4 565.0 L997.8 560.8 L1089.8 562.3 L1131.9 562.6 L1254.2 563.7 M1131.9 562.6 L1124.1 575.0 L1112.6 578.1 L1102.0 584.2 L1093.6 589.5 L1083.1 594.0 L1076.8 604.5 M950.5 604.5 L1102.2 604.3 L1106.3 603.6 L1109.4 602.2 L1112.7 599.7 L1117.5 599.2 L1120.4 600.1 L1124.1 600.5 L1127.1 600.3 L1130.5 600.3 L1134.2 600.5 L1137.1 600.6 L1141.4 598.6 L1145.9 599.5 L1148.9 602.1 L1149.4 604.7 L1149.8 607.4 L1151.1 609.9 L1154.9 608.9 L1158.8 610.4 L1162.3 610.1 L1166.3 609.5 L1170.5 609.7 L1174.5 609.8 L1175.5 613.2 L1179.0 614.6 L1182.5 617.2 L1185.4 620.1 L1188.4 622.6 L1190.3 626.2 L1193.6 628.8 L1195.2 632.8 L1197.8 634.3 M1102.5 605.2 L1100.1 607.7 L1098.0 610.0 L1096.4 613.1 L1099.5 614.1 L1103.6 617.0 L1106.1 619.4 L1107.7 622.3 L1109.3 625.1 L1110.9 627.8 L1113.7 630.9 L1115.0 633.3 L1118.4 635.0 L1121.6 637.8 L1124.2 641.1 L1126.2 644.1 L1127.0 647.7 L1129.1 649.5 L1131.6 652.3 L1132.8 654.8 L1133.6 657.8 L1135.9 660.8 L1136.7 664.1 L1138.3 667.6 L1138.7 671.8 L1140.8 674.5 L1143.5 677.2 L1146.1 680.1 L1148.8 682.8 M994.7 604.5 L996.8 607.1 L989.0 686.2 L990.5 728.3 M1049.4 604.5 L1056.6 661.3 L1058.7 663.6 L1060.3 667.6 L1061.3 671.8 L1062.1 675.6 L1061.3 679.3 L1062.2 682.8 L1060.9 686.9 L1060.3 690.2 L1060.6 693.9 L1061.5 698.5 L1061.9 702.5 L1060.3 706.8 L1060.8 710.0 L1062.3 712.5 L1063.5 715.0 L1065.0 717.8 L1121.3 720.1 L1123.4 722.9 L1123.1 725.9 L1124.2 723.0 L1123.8 719.5 L1125.8 716.7 L1129.6 717.2 L1132.9 718.0 L1136.8 717.8 M1062.1 709.9 L1007.3 709.9 L1011.5 717.8 L1009.4 728.9 M1124.1 537.3 L1127.9 539.8 L1130.0 543.0 L1131.8 545.5 L1134.9 545.4 L1138.5 545.2 L1141.3 544.1 L1145.5 544.0 L1148.2 544.0 L1151.2 542.0 L1154.2 540.4 L1157.9 539.7 L1161.3 538.2 L1163.7 536.2 L1164.2 533.4 L1166.1 530.1 L1167.5 527.2 L1168.5 524.4 L1169.4 520.5 L1170.6 517.0 L1171.8 512.6 L1175.4 511.2 L1178.2 512.1 L1181.1 512.0 L1184.7 512.4 L1186.9 510.6 L1189.1 507.6 L1191.3 506.0 L1192.8 501.8 L1195.7 498.2 L1198.4 496.0 L1199.6 492.0 L1201.8 487.6 L1205.4 489.3 L1208.2 491.8 L1210.7 493.7 L1212.2 495.1 L1214.3 492.0 L1215.3 490.7 M1178.6 494.3 L1181.3 491.7 L1183.5 488.9 L1187.7 486.4 L1190.6 486.8 L1193.2 486.0 L1196.1 485.1 L1199.4 484.4 L1201.6 481.7 L1205.8 480.8 L1208.0 481.6 L1210.8 481.8 L1213.7 483.9 L1214.0 488.0 L1214.8 491.7 L1217.4 493.3 L1219.8 493.2 L1223.8 495.2 L1225.8 498.4 L1228.0 501.0 L1229.6 503.7 L1229.5 507.2 L1227.9 509.7 L1226.0 512.7 L1223.7 515.2 L1227.3 515.7 L1231.5 516.3 L1234.6 519.5 L1237.5 521.3 L1240.2 523.9 L1244.1 524.1 M1156.4 420.6 L1156.4 480.1 L1256.1 480.1 M1156.4 455.9 L1153.6 458.3 L1154.7 467.5 L1149.4 480.7 L1142.0 488.6 M1178.2 480.1 L1178.2 493.8 M1256.1 480.1 L1259.9 477.2 L1263.7 478.0 M1256.1 480.1 L1257.8 513.6 L1271.5 513.6 M1258.9 526.8 L1267.3 524.9 M1264.1 477.2 L1267.2 476.4 L1270.5 474.1 L1272.7 472.0 L1275.1 468.6 L1277.7 467.0 L1276.1 464.5 L1273.8 463.0 L1271.7 460.5 L1271.2 457.3 L1269.0 454.7 L1269.4 452.1 L1269.2 447.9 L1271.3 443.9 L1274.6 441.5 L1276.3 439.1 L1279.2 437.3 L1282.6 439.0 L1285.8 441.2 L1288.4 443.4 L1291.9 443.9 L1295.5 446.7 L1294.7 449.2 L1293.4 451.6 L1293.2 454.3 M1172.4 412.9 L1172.4 420.0 L1265.2 420.0 L1271.5 426.6 L1278.9 436.9 M1306.7 340.8 L1306.3 344.0 L1306.2 347.0 L1305.4 350.3 L1306.8 353.0 L1307.7 358.0 L1307.0 362.5 L1306.2 366.4 L1305.4 370.6 L1306.0 374.2 L1305.8 378.6 L1307.1 379.6 L1308.7 378.9 L1309.3 382.3 L1309.3 386.6 L1309.2 389.8 L1308.3 393.4 L1308.0 396.0 L1309.4 399.9 L1308.9 404.1 L1307.5 407.3 L1307.1 411.8 L1305.7 415.5 L1304.7 419.8 L1303.2 423.4 L1302.8 426.1 L1303.9 430.4 L1303.7 434.1 L1303.9 438.5 L1303.2 440.8 L1302.1 443.5 L1301.0 446.4 M1346.2 340.7 L1344.1 354.2 L1334.6 366.0 L1328.3 380.5 L1324.1 396.3 L1326.0 400.8 M1309.0 400.3 L1350.4 401.6 L1356.8 397.1 L1360.5 397.1 M1355.1 333.1 L1356.3 359.4 L1357.2 383.2 L1363.1 391.9 M1304.1 418.7 L1339.9 419.5 L1348.8 419.5 L1348.8 422.7 L1352.5 428.5 L1354.6 433.2 M1339.9 419.5 L1339.9 435.3 L1338.6 438.0 M940.1 296.2 L943.6 296.7 L947.4 296.9 L951.4 299.5 L953.8 301.4 L956.6 303.3 L959.4 305.2 L962.1 307.1 L965.7 308.8 L968.1 309.9 L972.6 310.5 L976.0 313.0 L979.0 315.5 L982.0 316.3 L984.6 318.1 L988.3 318.3 L992.0 320.2 L993.9 321.5 L996.5 322.4 L999.4 323.1 L1000.8 326.6 L1001.9 329.0 L1003.2 331.6 L1003.7 334.7 L1007.4 338.0" fill="none" stroke="#000" stroke-width="3.1" stroke-linejoin="round" stroke-linecap="round"/><path d="M846.9 234.9 L848.6 231.2 L849.4 228.5 L848.5 227.0 L850.0 227.0 L851.9 226.3 L853.6 227.0 L856.5 227.1 L856.5 230.8 L856.8 233.4 L858.6 236.4 L858.9 239.4 L859.8 241.7 L862.2 242.9 L865.1 243.3 L867.4 244.2 L870.9 243.7 L875.4 244.8 L878.3 245.9 L881.5 246.0 L884.6 245.3 L887.4 245.3 L890.0 244.3 L892.3 246.6 L894.1 247.1 L897.3 247.7 L900.8 248.4 L903.6 250.4 L905.6 252.2 L909.9 251.8 L913.0 251.2 L916.9 253.4 L919.9 256.2 L923.1 258.1 L927.4 256.9 L930.9 256.2 L935.3 256.0 L937.4 255.3 L941.1 255.3 L945.7 256.4 L949.4 256.1 L953.6 257.0 L957.0 257.5 L961.0 258.5 L964.5 260.2 L965.9 262.2 L969.1 261.5 L965.5 262.7 L962.2 264.5 L958.3 265.1 L954.9 266.1 L952.7 268.6 L948.8 270.0 L945.9 270.8 L943.6 273.2 L941.8 275.6 L939.2 278.0 L936.6 281.1 L932.8 282.1 L930.3 282.9 L927.7 285.2 L925.3 286.5 L921.8 287.8 L918.7 289.9 L915.9 291.6 L913.8 295.0 L910.3 295.4 L913.1 295.3 L915.5 295.4 L918.8 294.3 L922.0 293.7 L925.2 291.9 L929.6 291.8 L933.2 290.0 L938.1 289.0 L940.1 290.7 L940.2 291.6 L939.6 294.2 L938.9 298.8 L942.5 298.0 L946.8 298.5 L950.0 297.5 L952.7 296.0 L955.7 294.1 L958.3 293.8 L961.0 292.3 L963.9 291.6 L966.4 291.5 L968.5 290.1 L970.5 288.3 L973.7 286.1 L976.5 285.9 L979.1 284.6 L981.9 283.8 L984.1 283.2 L986.5 281.5 L988.8 280.3 L991.7 279.5 L993.3 279.0 L995.3 276.7 L998.5 274.7 L1001.9 274.8 L1005.8 277.5 L1004.3 279.3 L1002.1 280.9 L1000.4 282.5 L998.2 285.3 L995.0 286.8 L993.4 288.9 L990.7 291.4 L992.9 294.7 L995.6 294.1 L998.9 293.8 L1001.1 294.9 L1002.7 295.7 L1005.7 296.7 L1008.5 297.6 L1012.5 298.8 L1016.6 299.7 L1020.2 300.4 L1024.5 299.3 L1028.8 299.7 L1032.1 299.8 L1035.0 298.5 L1038.2 297.7 L1041.6 295.3 L1045.1 296.1 L1048.1 295.7 L1051.5 294.5 L1055.8 294.3 L1058.9 294.4 L1062.8 293.8 L1064.1 295.3 L1066.1 298.1 L1064.5 300.3 L1067.5 301.0 L1069.9 302.3 L1072.3 301.6 L1076.0 303.0 L1078.9 302.6 L1080.2 305.1 L1081.3 307.0 L1083.4 309.3 L1086.5 311.5 L1088.2 314.0 L1089.6 316.1 L1086.6 316.1 L1083.7 315.5 L1081.0 316.2 L1077.1 316.0 L1072.8 314.9 L1070.2 316.1 L1066.3 318.0 L1062.7 316.1 L1059.1 313.7 L1056.2 312.8 L1053.6 312.2 L1050.0 314.8 L1046.0 315.1 L1042.1 316.5 L1038.2 317.9 L1034.8 318.4 L1031.5 319.3 L1028.2 319.6 L1027.1 319.4 L1024.9 319.5 L1022.8 318.6 L1021.6 321.5 L1019.4 323.6 L1017.8 326.1 L1016.0 328.6 L1013.8 330.0 L1012.8 333.4 L1010.3 335.3 L1007.7 337.2 L1006.9 339.9 L1006.4 343.6 L1004.3 346.5 L1002.5 350.6 L999.9 352.3 L998.9 353.5 L1001.6 351.4 L1004.3 348.4 L1007.1 346.9 L1009.5 343.8 L1011.4 341.1 L1013.5 337.2 L1016.8 334.5 L1019.5 334.0 L1020.7 330.5 L1023.0 333.0 L1021.8 335.8 L1020.3 339.1 L1018.3 341.3 L1016.1 344.4 L1015.1 348.5 L1012.7 350.9 L1010.9 352.7 L1010.0 355.0 L1008.6 357.2 L1008.7 360.2 L1008.6 363.1 L1007.7 367.2 L1006.7 369.9 L1007.3 373.7 L1006.1 377.1 L1005.1 380.8 L1004.6 384.0 L1003.6 387.0 L1004.3 390.2 L1004.2 394.5 L1003.7 397.4 L1003.3 400.5 L1003.6 403.2 L1003.3 406.8 L1004.2 410.2 L1003.5 414.3 L1005.4 416.5 L1007.4 419.5 L1008.4 422.9 L1010.8 426.0 L1013.2 428.2 L1015.9 429.2 L1019.4 428.2 L1023.1 426.4 L1026.4 424.9 L1027.3 422.3 L1029.0 419.2 L1030.4 417.1 L1032.3 413.4 L1034.4 411.0 L1034.9 408.0 L1034.3 404.7 L1035.5 401.1 L1035.3 398.4 L1035.0 394.5 L1034.7 391.1 L1033.9 387.4 L1033.7 383.5 L1034.9 380.4 L1033.0 377.6 L1032.3 374.6 L1031.5 371.9 L1030.9 368.5 L1031.8 365.8 L1033.2 363.3 L1032.5 360.2 L1034.1 356.9 L1035.8 354.7 L1036.0 351.5 L1036.8 348.0 L1038.1 343.5 L1040.7 339.7 L1044.4 338.0 L1045.7 336.1 L1047.2 334.7 L1048.3 336.7 L1050.8 338.8 L1051.6 336.5 L1053.0 334.1 L1054.0 331.3 L1054.7 326.3 L1057.7 324.8 L1060.2 323.1 L1062.0 321.7 L1064.2 319.8 L1067.9 320.1 L1071.2 320.3 L1073.7 322.7 L1075.9 323.5 L1079.1 324.8 L1082.6 326.6 L1085.0 329.4 L1086.8 331.0 L1088.8 333.4 L1090.7 333.4 L1093.7 335.7 L1096.0 338.8 L1096.6 341.5 L1097.6 343.8 L1099.2 347.6 L1098.3 350.3 L1098.1 353.7 L1096.9 356.5 L1095.3 358.1 L1094.4 360.6 L1093.8 363.7 L1089.9 366.4 L1087.5 369.2 L1085.6 372.4 L1085.4 376.4 L1088.4 375.8 L1092.3 375.0 L1094.0 373.6 L1095.9 370.2 L1099.1 367.5 L1103.2 365.5 L1107.7 365.6 L1108.7 368.2 L1110.9 369.3 L1113.4 371.5 L1113.0 375.5 L1114.2 379.0 L1115.7 382.6 L1116.0 386.3 L1116.2 390.7 L1115.1 393.1 L1115.1 396.9 L1114.5 400.9 L1112.4 403.5 L1110.7 406.4 L1109.1 409.2 L1107.6 411.7 L1104.4 413.2 L1102.7 416.6 L1101.6 418.7 L1100.6 421.4 L1099.5 424.0 L1097.8 426.3 L1094.9 428.3 L1096.8 429.5 L1099.2 430.3 L1102.1 430.9 L1104.9 432.0 L1107.2 433.8 L1109.3 434.3 L1113.3 433.7 L1116.8 431.3 L1120.7 430.0 L1124.4 430.2 L1127.4 431.0 L1130.5 429.5 L1133.7 429.1 L1136.6 427.5 L1139.8 426.5 L1142.1 424.6 L1144.6 422.3 L1148.8 420.8 L1152.0 420.4 L1155.5 419.6 L1156.6 420.5 L1159.0 419.0 L1161.9 417.2 L1165.4 415.0 L1168.8 414.6 L1172.1 412.1 L1175.6 410.6 L1179.0 408.9 L1181.9 407.5 L1184.3 406.6 L1185.3 404.0 L1187.5 400.8 L1190.6 399.5 L1189.7 395.4 L1188.1 392.8 L1187.5 389.7 L1187.4 385.9 L1192.1 385.7 L1194.9 385.5 L1198.7 383.8 L1203.0 384.4 L1206.7 385.1 L1210.6 386.3 L1213.6 386.3 L1217.8 387.1 L1220.8 387.5 L1223.3 387.0 L1226.5 385.7 L1229.8 385.8 L1232.1 383.2 L1236.0 382.2 L1238.9 381.7 L1241.2 380.6 L1244.4 379.8 L1248.0 378.6 L1248.0 376.4 L1248.0 373.1 L1247.9 370.1 L1245.5 367.9 L1244.1 364.4 L1247.8 362.7 L1249.6 360.8 L1252.6 358.2 L1255.0 355.4 L1257.9 352.2 L1260.6 349.6 L1262.8 346.8 L1267.1 344.2 L1270.2 344.6 L1272.9 343.8 L1275.4 343.5 L1278.2 341.0 M1345.8 340.4 L1346.9 337.5 L1348.6 336.3 L1351.5 333.9 L1355.5 332.9 L1357.7 334.2 L1360.3 334.5 L1360.4 332.7 L1360.6 329.9 L1363.4 328.3 L1365.4 325.3 L1368.3 323.9 L1370.6 322.4 L1371.3 319.7 L1372.1 316.7 L1372.2 313.1 L1370.5 308.9 L1373.6 306.2 L1375.6 303.8 L1376.7 299.4 L1379.2 296.5 L1380.3 293.7 L1382.6 290.7 L1384.5 287.6 L1387.5 284.9 L1390.1 282.3 L1391.3 279.3 L1394.0 276.4 L1395.1 278.6 L1397.4 280.1 L1398.8 281.7 L1400.1 283.1 L1403.4 281.4 L1407.3 279.3 L1411.3 279.6 L1413.7 279.0 L1416.4 281.4 L1419.0 283.3 L1420.9 285.3 L1423.5 286.3 L1423.6 289.4 L1425.6 293.6 L1424.5 297.6 L1423.9 301.2 L1424.4 304.7 L1424.6 308.3 L1425.8 312.2 L1424.6 316.1 L1427.3 318.8 L1430.3 322.1 L1431.2 326.1 L1430.7 328.6 L1430.1 331.7 L1430.6 335.1 L1434.9 336.0 L1438.8 338.1 L1440.0 341.5 L1442.1 346.5 L1439.7 348.9 L1436.4 351.5 L1433.5 351.6 L1431.3 352.8 L1428.9 354.6 L1424.3 356.1 L1421.0 357.1 L1417.1 358.0 L1414.7 359.3 L1412.9 361.4 L1409.5 360.3 L1407.5 358.5 L1403.6 357.3 L1403.5 361.2 L1402.8 366.1 L1399.4 367.2 L1396.2 368.4 L1393.3 369.2 L1389.4 371.2 L1385.9 371.3 L1383.2 372.7 L1380.8 373.5 L1377.7 374.7 L1375.3 376.5 L1372.3 378.3 L1369.5 380.3 L1369.4 383.8 L1368.0 387.5 L1365.9 391.0 L1364.1 394.2 L1361.9 396.3 L1364.6 399.1 L1364.1 403.7 L1360.6 404.4 L1358.0 406.4 L1357.3 408.6 L1356.2 411.9 L1360.0 412.4 L1362.5 414.9 L1363.4 417.9 L1364.9 421.0 L1366.4 423.4 L1367.4 426.2 L1369.6 426.0 L1372.8 426.3 L1375.1 426.7 L1376.2 424.1 L1377.4 423.5 L1376.0 420.6 L1374.8 418.7 L1373.2 419.4 L1375.7 422.5 L1376.6 425.4 L1379.1 427.2 L1376.5 427.4 L1374.5 428.4 L1372.3 429.4 L1368.1 432.5 L1363.8 432.5 L1362.8 430.3 L1361.8 428.1 L1359.8 429.5 L1357.3 431.6 L1353.7 433.7 L1352.6 430.2 L1350.7 428.0 L1349.3 430.7 L1347.3 432.4 L1347.1 434.9 L1345.9 435.9 L1343.5 436.2 L1341.2 435.6 L1339.5 436.8 L1335.3 438.9 L1331.7 438.9 L1327.6 439.7 L1323.7 440.5 L1320.1 440.5 L1316.4 440.8 L1312.6 440.1 L1309.8 442.3 L1306.5 444.2 L1303.6 445.7 L1301.0 447.4 L1298.3 449.1 L1296.1 449.9 L1294.8 452.9 L1293.1 454.7 L1296.5 455.8 L1299.6 456.0 L1303.3 455.5 L1307.1 454.5 L1312.0 453.3 L1315.8 453.8 L1319.1 452.9 L1322.3 451.3 L1325.8 451.3 L1328.5 449.1 L1331.4 448.1 L1334.1 445.9 L1337.5 444.8 L1334.6 443.9 L1332.7 442.4 L1329.8 443.1 L1327.0 444.3 L1324.4 446.1 L1321.0 448.2 L1317.9 448.2 L1314.6 448.2 L1311.2 449.8 L1307.3 448.8 L1304.4 448.3 L1301.5 448.7 L1298.6 449.1 L1296.1 451.4 L1293.7 454.5 L1291.0 456.8 L1288.9 459.7 L1291.6 459.7 L1293.9 460.9 L1293.3 465.1 L1293.0 468.9 L1292.6 472.3 L1292.7 476.4 L1290.1 480.1 L1288.4 483.3 L1286.8 486.0 L1284.0 488.1 L1281.9 490.5 L1279.0 493.2 L1277.7 494.8 L1276.4 498.0 L1272.6 501.7 L1271.2 497.6 L1269.7 494.2 L1268.0 491.1 L1264.4 489.8 L1261.6 486.9 L1261.8 484.3 L1260.6 482.1 L1262.6 484.9 L1262.8 488.5 L1264.6 491.5 L1264.9 495.3 L1265.7 497.9 L1268.1 500.4 L1270.7 504.2 L1271.3 506.7 L1272.0 510.3 L1272.2 513.9 L1271.6 517.2 L1269.8 520.4 L1267.7 523.4 L1266.3 524.7 L1265.2 528.2 L1263.4 531.1 L1262.0 534.7 L1259.6 537.2 L1257.3 539.4 L1256.6 542.3 L1254.3 545.3 L1253.5 547.9 L1252.4 546.4 L1251.5 544.3 L1251.4 541.1 L1252.0 537.6 L1252.5 533.3 L1254.9 530.3 L1255.8 527.8 L1253.7 524.4 L1251.8 521.5 L1250.2 518.9 L1248.2 516.5 L1247.2 513.2 L1246.1 508.1 L1246.5 504.2 L1246.3 500.8 L1247.1 497.4 L1247.9 494.2 L1248.5 489.8 L1250.6 487.4 L1248.2 489.0 L1245.7 491.0 L1243.3 492.1 L1241.2 495.1 L1240.5 498.4 L1239.4 501.2 L1241.2 504.4 L1242.2 508.0 L1242.5 511.3 L1243.5 514.2 L1244.3 518.1 L1244.4 521.0 L1243.5 524.4 L1241.2 521.9 L1238.6 520.7 L1235.4 520.0 L1231.7 517.4 L1230.8 515.3 L1229.7 514.0 L1231.4 517.1 L1233.6 519.2 L1235.9 521.8 L1237.8 524.8 L1240.1 526.5 L1243.6 529.3 L1245.1 534.7 L1241.3 533.5 L1239.7 532.3 L1240.0 535.1 L1242.5 537.2 L1244.0 540.4 L1244.8 541.9 L1242.8 543.7 L1240.5 545.3 L1243.0 548.6 L1244.8 552.0 L1242.6 549.3 L1241.6 547.2 L1237.2 546.4 L1240.0 548.2 L1242.7 550.8 L1245.1 552.7 L1248.6 553.0 L1252.2 553.5 L1253.8 557.8 L1253.4 561.3 L1253.1 564.3 L1254.2 566.8 L1255.3 569.8 L1256.6 572.3 L1258.0 576.9 L1259.3 580.1 L1261.8 583.7 L1261.9 587.6 L1261.7 590.5 L1262.2 594.3 L1263.4 598.3 L1259.8 600.8 L1255.5 601.7 L1251.7 601.7 L1248.8 604.4 L1245.6 605.6 L1242.4 608.1 L1240.6 610.7 L1240.8 614.6 L1236.1 616.1 L1232.1 614.5 L1228.5 614.0 L1225.6 615.7 L1223.4 618.5 L1221.0 621.5 L1217.4 623.0 L1216.4 625.8 L1214.7 629.4 L1212.5 631.9 L1210.4 633.4 L1206.9 632.5 L1203.6 632.1 L1200.2 635.1 L1196.6 635.9 L1193.1 637.4 L1191.7 641.0 L1189.5 643.9 L1187.4 647.3 L1184.0 649.3 L1183.0 652.4 L1181.3 656.2 L1177.9 658.4 L1174.9 660.6 L1171.4 662.1 L1169.6 664.9 L1166.3 667.0 L1163.3 668.6 L1161.4 671.4 L1158.7 674.9 L1156.4 678.3 L1152.1 680.6 L1148.9 682.4 L1147.1 685.5 L1144.5 688.7 L1142.5 691.1 L1141.5 694.5 L1141.3 697.5 L1141.4 701.4 L1140.0 704.9 L1137.9 707.6 L1138.5 710.7 L1137.6 714.0 L1137.4 717.3 L1137.9 721.4 L1138.2 724.9 L1138.7 728.1 L1139.8 732.5 L1138.9 735.9 L1139.4 738.8 L1139.4 741.7 L1141.4 745.0 L1144.0 748.6 L1144.2 752.5 L1146.6 755.6 L1147.5 759.7 L1149.1 763.6 L1150.8 766.9 L1152.0 769.9 L1155.5 772.9 L1156.0 777.7 L1155.3 780.9 L1154.6 783.5 L1154.0 786.9 L1154.8 790.0 L1156.2 793.7 L1156.5 796.2 L1158.9 799.4 L1161.1 803.4 L1161.7 807.3 L1163.2 810.8 L1163.0 814.1 L1165.5 817.2 L1166.5 821.0 L1165.7 824.4 L1166.0 827.7 L1165.4 832.0 L1165.7 835.8 L1164.1 839.3 L1163.3 841.5 L1163.8 844.3 L1164.9 847.9 L1163.1 850.8 L1163.1 854.2 L1161.8 857.4 L1160.4 860.8 L1157.6 862.8 L1154.7 863.6 L1151.5 863.5 L1149.8 863.2 L1147.0 864.2 L1144.4 864.8 L1143.6 862.0 L1143.0 858.5 L1141.0 855.5 L1139.2 853.2 L1136.0 850.1 L1134.7 846.9 L1131.7 844.7 L1130.1 841.5 L1128.8 837.6 L1127.6 832.9 L1128.1 829.0 L1125.1 826.9 L1122.9 824.0 L1121.0 821.5 L1119.2 818.1 L1117.7 815.1 L1114.1 811.4 L1113.4 807.3 L1113.1 804.6 L1111.7 802.4 L1110.2 799.7 L1111.9 797.5 L1112.9 794.3 L1115.3 792.9 L1111.8 792.0 L1107.4 789.6 L1109.0 785.7 L1110.4 782.9 L1111.8 779.5 L1111.2 776.6 L1110.2 772.8 L1110.4 769.0 L1110.9 765.5 L1107.3 764.2 L1105.3 761.5 L1102.3 759.2 L1101.3 755.2 L1099.7 752.4 L1096.7 749.6 L1095.4 745.1 L1093.3 742.5 L1091.7 739.4 L1089.9 736.9 L1087.3 735.6 L1084.8 734.7 L1081.5 732.3 L1079.7 734.9 L1076.7 738.2 L1074.0 740.4 L1070.4 742.3 L1067.3 743.9 L1064.5 744.6 L1061.7 747.2 L1058.0 745.0 L1054.9 744.6 L1054.4 741.4 L1053.8 737.4 L1050.8 736.0 L1048.5 733.5 L1047.3 730.9 L1044.0 730.7 L1041.1 729.7 L1037.7 728.2 L1035.0 727.1 L1030.7 727.3 L1027.3 727.9 L1022.4 727.6 L1018.6 726.6 L1015.5 726.5 L1012.6 727.6 L1009.9 728.2 L1006.2 729.7 L1003.1 728.8 L1000.4 730.0 L999.2 726.4 L999.0 722.5 L998.7 718.6 L998.0 721.8 L997.0 723.8 L996.2 728.1 L992.2 728.7 L988.6 727.8 L985.5 726.2 L982.0 726.7 L979.1 725.6 L975.4 725.8 L972.7 727.0 L970.9 728.3 L969.2 730.3 L965.2 733.3 L961.8 731.3 L958.7 729.9 L955.7 728.6 L958.1 731.3 L959.9 734.1 L963.6 734.9 L966.2 735.0 L970.3 735.0 L970.1 738.7 L969.8 741.8 L967.0 742.9 L963.6 746.4 L966.3 748.1 L969.6 751.3 L971.4 754.0 L974.2 756.1 L977.6 759.4 L975.8 761.4 L972.8 763.7 L970.2 761.1 L969.1 759.2 L965.8 757.7 L962.3 755.9 L959.8 753.6 L957.0 756.2 L954.6 757.3 L951.3 759.1 L947.7 759.0 L945.0 759.2 L941.9 759.2 L937.9 759.1 L934.7 758.4 L930.2 756.8 L927.8 754.1 L925.1 752.5 L921.8 751.0 L918.7 748.2 L916.3 748.6 L913.5 747.8 L911.0 747.8 L907.5 748.1 L903.9 746.9 L900.8 745.3 L898.7 745.1 L894.8 744.4 L891.2 743.9 L887.4 743.2 L883.5 743.7 L879.8 744.5 L874.9 745.0 L871.9 744.6 L869.3 745.4 L866.8 745.5 L864.4 747.3 L861.1 749.7 L857.2 750.6 L854.8 748.1 L852.9 744.1 L854.5 747.8 L855.6 751.1 L856.8 754.3 L854.9 757.5 L851.0 760.5 L847.8 762.3 L844.7 763.8 L841.3 765.5 L838.6 767.5 L835.0 769.5 L833.2 771.7 L831.0 774.1 L828.1 776.7 L825.0 778.2 L821.4 779.2 L820.1 775.4 L818.4 773.2 L816.9 776.9 L814.8 779.9 L813.7 782.8 L812.7 787.0 L810.0 788.4 L807.1 791.0 L803.9 792.8 L803.4 795.3 L803.7 798.5 L803.2 802.7 L802.8 805.5 L802.7 809.7 L802.4 813.4 L802.3 817.7 L801.6 821.4 L800.8 824.3 L802.8 827.2 L803.9 830.5 L805.6 833.7 L805.2 837.0 L805.5 840.0 L806.9 842.1 L805.2 842.7 L800.9 842.0 L797.9 841.5 L794.1 841.6 L790.5 842.2 L787.1 841.9 L782.9 841.1 L780.2 838.7 L777.6 837.6 L774.7 835.4 L771.7 833.9 L769.3 832.5 L766.7 831.5 L764.8 828.9 L761.4 825.2 L760.5 821.4 L759.9 817.9 L758.2 814.2 L756.7 810.8 L754.9 806.3 L753.1 803.5 L750.3 800.5 L748.3 796.4 L747.6 792.9 L746.1 789.7 L744.7 787.9 L741.8 785.3 L739.8 782.0 L738.2 778.9 L735.6 776.5 L734.6 772.7 L732.6 769.7 L731.7 766.1 L731.0 763.4 L728.6 760.8 L725.5 757.2 L724.5 753.9 L722.8 750.4 L721.1 747.4 L718.5 744.6 L715.3 741.4 L712.9 741.0 L709.0 742.4 L705.0 742.3 L700.7 742.5 L697.4 741.7 L693.6 741.6 L690.4 743.9 L687.4 746.7 L686.1 750.0 L684.7 753.3 L682.6 756.6 L680.5 760.5 L679.4 761.9 L676.4 761.8 L673.4 760.7 L669.9 759.3 L666.1 757.7 L662.5 755.1 L658.5 753.6 L655.9 749.6 L654.1 746.2 L651.8 744.8 L650.4 741.1 L647.8 737.8 L647.7 733.5 L646.3 730.5 L644.3 727.2 L643.2 723.3 L641.5 721.0 L639.5 717.7 L636.8 715.7 L633.2 713.7 L630.8 710.7 L629.4 707.6 L626.5 706.1 L624.9 703.2 L622.5 701.5 L620.1 698.9 L617.9 697.0 L614.7 695.6 L611.3 692.2 L609.8 689.2 L608.3 686.3 L609.0 689.0 L605.0 689.6 L600.5 690.2 L597.1 689.1 L593.0 690.2 L588.8 689.4 L584.6 688.6 L581.1 688.0 L578.3 688.1 L574.0 688.9 L573.6 692.7 L573.9 696.9 L573.5 701.2 M434.7 670.6 L435.4 667.5 L436.4 664.6 M385.4 669.6 L384.8 665.3 L384.4 661.6 L382.6 659.6 L381.2 656.4 L380.2 654.2 L378.9 651.1 L378.7 648.4 L378.1 646.3 L376.1 644.4 L373.2 642.2 L372.4 638.8 L369.1 638.3 L366.3 636.5 L363.7 635.0 L360.6 634.0 L357.1 632.4 L354.5 629.7 L351.6 630.1 L349.4 628.5 L347.4 626.8 L344.8 625.6 L342.1 623.6 L339.2 622.0 L336.8 621.4 L332.7 620.7 L329.9 619.0 L326.5 619.0 L322.8 619.0 L318.5 618.6 L313.1 616.1 L313.8 612.0 L312.1 608.3 L311.7 605.2 L311.6 601.9 L310.4 598.5 L309.0 596.2 L306.7 594.6 L303.8 591.7 L302.3 588.7 L300.9 585.9 L298.5 583.9 L296.3 580.6 L293.0 577.6 L292.0 573.6 L289.7 571.5 L287.1 569.2 L286.0 565.6 L287.5 563.3 L287.7 560.9 L287.2 557.8 L285.9 556.2 L283.7 554.0 L281.8 551.3 L280.8 548.6 L279.5 546.4 L276.8 544.6 L276.0 540.9 L277.7 539.2 L279.6 538.0 L280.0 534.2 L278.9 530.9 L276.6 529.1 L274.8 525.8 L274.1 523.6 L271.1 522.9 L268.5 521.7 L266.8 521.4 L264.5 518.9 L262.1 516.6 L261.7 514.1 L259.0 512.7 L256.3 510.3 L253.9 507.8 L251.4 504.5 L249.6 501.5 L248.9 498.3 L246.1 495.3 L246.3 491.4 L245.2 488.6 L244.6 485.5 L243.4 481.9 L242.1 478.6 L241.8 474.5 L242.0 472.2 L239.7 470.6 L238.4 468.2 L235.9 465.7 L234.2 463.4 L231.8 460.0 L233.0 456.2 L232.9 451.2 L235.5 449.1 L237.6 447.1 L239.0 444.7 L237.9 441.4 L237.3 438.0 L235.4 433.8 L235.7 430.3 L234.7 427.0 L233.6 423.0 L233.9 419.1 L232.6 416.1 L232.9 413.0 L231.4 409.8 L229.6 406.0 L229.5 402.0 L230.3 399.1 L229.4 395.9 L230.9 393.2 L231.3 390.0 L232.5 386.8 L232.5 383.9 L231.8 380.6 L232.5 375.9 L233.7 372.8 L234.4 369.4 L235.5 366.5 L235.5 362.9 L235.3 359.1 L237.2 356.0 L237.0 352.9 L237.4 348.8 L238.2 345.6 L239.9 342.4 L240.8 339.3 L241.2 337.0 L239.9 333.3 L240.8 329.6 L240.4 326.2 L240.4 322.9 L240.7 319.0 L240.7 315.6 L241.1 311.1 L241.9 308.4 L240.9 305.2 L239.8 301.9 L239.9 298.6 L239.6 295.4 L239.0 291.8 L238.0 289.6 L236.3 286.0 L235.3 282.9 L234.1 279.9 L231.4 276.3 L229.8 272.5 L228.6 267.3 L228.8 263.6 L227.7 260.1 L226.5 256.7 L226.9 254.4 L226.4 251.6 L229.0 252.5 L231.8 252.3 L235.5 252.1 L239.0 253.6 L241.5 255.7 L245.0 255.2 L247.9 255.9 L250.9 256.0 L254.4 256.4 L257.0 256.9 L260.0 257.2 L263.7 257.7 L262.9 262.7 L260.4 264.9 L258.9 268.5 L259.4 270.8 L260.7 273.5 L261.0 278.0 L259.2 281.8 L261.5 283.7 L263.0 286.7 L265.7 285.7 L268.7 285.6 L270.6 283.7 L272.9 282.6 L274.6 281.0 L274.0 276.8 L275.9 273.7 L275.8 269.7 L275.4 266.3 L276.9 263.7 L277.6 260.5 L277.8 256.4 L276.3 253.6 L273.8 250.7 L272.3 247.1 L270.6 244.2 L268.5 241.3 L268.9 238.2 L267.2 235.6" fill="none" stroke="#000" stroke-width="4.1" stroke-linejoin="round" stroke-linecap="round"/><path d="M1250.4 485.9 L1245.2 496.5 L1242.0 507.0 L1244.1 517.5 L1247.3 528.1 L1248.3 538.6 L1249.4 549.2" fill="none" stroke="#000" stroke-width="6" stroke-linecap="round" stroke-linejoin="round"/><path d="M1229.4 513.6 L1236.8 520.2 L1244.1 525.4" fill="none" stroke="#000" stroke-width="4.5" stroke-linecap="round" stroke-linejoin="round"/><path d="M1232.6 525.4 L1238.9 530.7 L1244.1 536.0" fill="none" stroke="#000" stroke-width="4" stroke-linecap="round" stroke-linejoin="round"/><path d="M1234.7 538.6 L1241.0 543.9 L1245.2 546.5" fill="none" stroke="#000" stroke-width="4" stroke-linecap="round" stroke-linejoin="round"/><path d="M1230.5 543.9 L1237.8 547.8 L1244.1 552.3" fill="none" stroke="#000" stroke-width="4.5" stroke-linecap="round" stroke-linejoin="round"/><path d="M1251.5 509.6 L1253.6 517.5 L1254.7 525.4" fill="none" stroke="#000" stroke-width="4" stroke-linecap="round" stroke-linejoin="round"/><path d="M1251.5 565.0 L1249.4 574.2 L1243.1 578.1 L1236.8 576.8" fill="none" stroke="#000" stroke-width="3.5" stroke-linecap="round" stroke-linejoin="round"/><path d="M1249.4 574.2 L1255.7 579.5 L1251.5 587.4 L1241.0 591.3 L1232.6 592.6" fill="none" stroke="#000" stroke-width="3.5" stroke-linecap="round" stroke-linejoin="round"/><path d="M1241.0 591.3 L1242.0 599.2 L1234.7 604.5 L1230.5 601.9" fill="none" stroke="#000" stroke-width="3.5" stroke-linecap="round" stroke-linejoin="round"/><path d="M1242.0 599.2 L1245.2 605.8 L1238.9 611.1" fill="none" stroke="#000" stroke-width="3.5" stroke-linecap="round" stroke-linejoin="round"/><path d="M1253.6 572.9 L1257.8 583.4 L1256.8 591.3" fill="none" stroke="#000" stroke-width="3.0" stroke-linecap="round" stroke-linejoin="round"/><circle cx="1365.5" cy="434.6" r="2.6" fill="#000"/><circle cx="1374.3" cy="422.5" r="2.2" fill="#000"/><circle cx="1376.8" cy="434.3" r="2.4" fill="#000"/><circle cx="1371.8" cy="439.4" r="2.6" fill="#000"/><circle cx="1368.5" cy="429.5" r="1.8" fill="#000"/><path d="M258.5 245.2 L263.0 242.2 L268.6 243.2 L273.1 241.4 L275.6 247.7 L278.2 257.8 L275.6 264.1 L277.7 274.2 L275.6 280.5 L268.1 286.1 L262.5 287.6 L259.3 281.8 L261.0 274.2 L260.0 267.9 L263.0 262.9 L264.3 257.8 L260.5 254.0 L258.5 249.0Z M272.6 520.6 L279.4 520.6 L281.9 528.2 L284.5 539.6 L280.2 538.8 L275.6 533.3 L273.1 528.2Z" fill="#000"/>
<g text-anchor="middle" font-weight="bold" font-size="33.5"><text x="836.4" y="57">Asian longhorned beetle: Earliest date of OW gen. 25% adult</text><text x="836.4" y="96.8">flight w/ climate stress exclusion 2026</text></g>
<g text-anchor="middle" font-size="27.1"><text x="836.4" y="147.9">Maps and modeling 01/29/2026 by Oregon State University IPPC USPEST.ORG and</text><text x="836.4" y="180.8">USDA-APHIS-PPQ; climate data from OSU PRISM Climate Group</text></g>
<g font-weight="bold" font-size="26"><text x="1486" y="336.9">Earliest date</text><text x="1486" y="364.9">of OW gen. 25%</text><text x="1486" y="392.8">adult flight</text></g>
<g shape-rendering="crispEdges"><rect x="1486.1" y="406.90" width="24.9" height="25.72" fill="#4D4D4D"/><rect x="1486.1" y="432.32" width="24.9" height="25.72" fill="#A8F7E0"/><rect x="1486.1" y="457.74" width="24.9" height="25.72" fill="#8EE5D3"/><rect x="1486.1" y="483.16" width="24.9" height="25.72" fill="#B9FFC0"/><rect x="1486.1" y="508.58" width="24.9" height="25.72" fill="#8FD193"/><rect x="1486.1" y="534.00" width="24.9" height="25.72" fill="#66A56A"/><rect x="1486.1" y="559.42" width="24.9" height="25.72" fill="#3C7A3F"/><rect x="1486.1" y="584.84" width="24.9" height="25.72" fill="#145214"/><rect x="1486.1" y="610.26" width="24.9" height="25.72" fill="#CCFF00"/><rect x="1486.1" y="635.68" width="24.9" height="25.72" fill="#A5EE00"/><rect x="1486.1" y="661.10" width="24.9" height="25.72" fill="#7BDD08"/><rect x="1486.1" y="686.52" width="24.9" height="25.72" fill="#50CC10"/><rect x="1486.1" y="711.94" width="24.9" height="25.72" fill="#FFFF00"/><rect x="1486.1" y="737.36" width="24.9" height="25.72" fill="#DDD600"/><rect x="1486.1" y="762.78" width="24.9" height="25.72" fill="#BBAD05"/><rect x="1633.1" y="406.90" width="25.9" height="25.72" fill="#998509"/><rect x="1633.1" y="432.32" width="25.9" height="25.72" fill="#FFD68F"/><rect x="1633.1" y="457.74" width="25.9" height="25.72" fill="#FFBF72"/><rect x="1633.1" y="483.16" width="25.9" height="25.72" fill="#FDAA55"/><rect x="1633.1" y="508.58" width="25.9" height="25.72" fill="#FF9434"/><rect x="1633.1" y="534.00" width="25.9" height="25.72" fill="#FF7F15"/><rect x="1633.1" y="559.42" width="25.9" height="25.72" fill="#F4CCCC"/><rect x="1633.1" y="584.84" width="25.9" height="25.72" fill="#F49999"/><rect x="1633.1" y="610.26" width="25.9" height="25.72" fill="#F76666"/><rect x="1633.1" y="635.68" width="25.9" height="25.72" fill="#FB3333"/><rect x="1633.1" y="661.10" width="25.9" height="25.72" fill="#E6B8AF"/><rect x="1633.1" y="686.52" width="25.9" height="25.72" fill="#CC9085"/><rect x="1633.1" y="711.94" width="25.9" height="25.72" fill="#B3695C"/><rect x="1633.1" y="737.36" width="25.9" height="25.72" fill="#994333"/><rect x="1633.1" y="762.78" width="25.9" height="25.72" fill="#85200C"/><rect x="1760.3" y="406.90" width="25.7" height="25.72" fill="#FFAED8"/><rect x="1760.3" y="432.32" width="25.7" height="25.72" fill="#FF82E0"/><rect x="1760.3" y="457.74" width="25.7" height="25.72" fill="#FF57EC"/><rect x="1760.3" y="483.16" width="25.7" height="25.72" fill="#FF2BF4"/><rect x="1760.3" y="508.58" width="25.7" height="25.72" fill="#E2BFE5"/><rect x="1760.3" y="534.00" width="25.7" height="25.72" fill="#CA95D5"/><rect x="1760.3" y="559.42" width="25.7" height="25.72" fill="#B46EC7"/><rect x="1760.3" y="584.84" width="25.7" height="25.72" fill="#9E47B7"/><rect x="1760.3" y="610.26" width="25.7" height="25.72" fill="#B0EBFF"/><rect x="1760.3" y="635.68" width="25.7" height="25.72" fill="#86D3F0"/><rect x="1760.3" y="661.10" width="25.7" height="25.72" fill="#5ABCE5"/><rect x="1760.3" y="686.52" width="25.7" height="25.72" fill="#2CA5DA"/><rect x="1760.3" y="711.94" width="25.7" height="25.72" fill="#9FC5E8"/></g>
<g fill="#000" font-size="20" style="font-family:'DejaVu Sans','Liberation Sans',sans-serif"><g letter-spacing="0.6"><text x="1522.1" y="426.91">excl.-sev.</text><text x="1522.1" y="452.33">Feb-16</text><text x="1522.1" y="477.75">Feb-23</text><text x="1522.1" y="503.17">Mar-02</text><text x="1522.1" y="528.59">Mar-09</text><text x="1522.1" y="554.01">Mar-16</text><text x="1522.1" y="579.43">Mar-23</text><text x="1522.1" y="604.85">Mar-30</text><text x="1522.1" y="630.27">Apr-06</text><text x="1522.1" y="655.69">Apr-13</text><text x="1522.1" y="681.11">Apr-20</text><text x="1522.1" y="706.53">Apr-27</text><text x="1522.1" y="731.95">May-04</text><text x="1522.1" y="757.37">May-11</text><text x="1522.1" y="782.79">May-18</text></g><g letter-spacing="1.05"><text x="1669.5" y="426.91">May-25</text><text x="1669.5" y="452.33">Jun-01</text><text x="1669.5" y="477.75">Jun-08</text><text x="1669.5" y="503.17">Jun-15</text><text x="1669.5" y="528.59">Jun-22</text><text x="1669.5" y="554.01">Jun-29</text><text x="1669.5" y="579.43">Jul-06</text><text x="1669.5" y="604.85">Jul-13</text><text x="1669.5" y="630.27">Jul-20</text><text x="1669.5" y="655.69">Jul-27</text><text x="1669.5" y="681.11">Aug-03</text><text x="1669.5" y="706.53">Aug-10</text><text x="1669.5" y="731.95">Aug-17</text><text x="1669.5" y="757.37">Aug-24</text><text x="1669.5" y="782.79">Aug-31</text></g><g letter-spacing="1.05"><text x="1796.7" y="426.91">Sep-07</text><text x="1796.7" y="452.33">Sep-14</text><text x="1796.7" y="477.75">Sep-21</text><text x="1796.7" y="503.17">Sep-28</text><text x="1796.7" y="528.59">Oct-05</text><text x="1796.7" y="554.01">Oct-12</text><text x="1796.7" y="579.43">Oct-19</text><text x="1796.7" y="604.85">Oct-27</text><text x="1796.7" y="630.27">Nov-02</text><text x="1796.7" y="655.69">Nov-09</text><text x="1796.7" y="681.11">Nov-18</text><text x="1796.7" y="706.53">Nov-23</text><text x="1796.7" y="731.95">Dec-06</text></g></g>
</svg></body></html>
